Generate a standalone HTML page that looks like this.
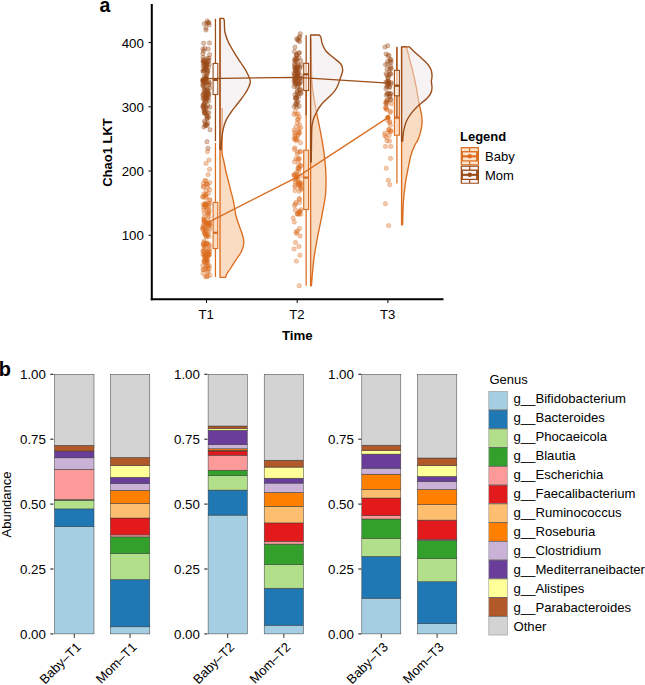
<!DOCTYPE html>
<html><head><meta charset="utf-8"><style>
html,body{margin:0;padding:0;background:#fff;}
svg{display:block;} text{font-family:"Liberation Sans", sans-serif;}
</style></head><body>
<svg width="645" height="685" viewBox="0 0 645 685">
<rect width="645" height="685" fill="#fff"/>
<line x1="151.8" y1="4" x2="151.8" y2="300.3" stroke="#000" stroke-width="2"/>
<line x1="150.8" y1="299.3" x2="443.5" y2="299.3" stroke="#000" stroke-width="2"/>
<line x1="148.5" y1="235.27" x2="151" y2="235.27" stroke="#000" stroke-width="1"/>
<text x="143.9" y="240.47" font-size="13.3" text-anchor="end" font-family="Liberation Sans, sans-serif">100</text>
<line x1="148.5" y1="171.04" x2="151" y2="171.04" stroke="#000" stroke-width="1"/>
<text x="143.9" y="176.24" font-size="13.3" text-anchor="end" font-family="Liberation Sans, sans-serif">200</text>
<line x1="148.5" y1="106.81" x2="151" y2="106.81" stroke="#000" stroke-width="1"/>
<text x="143.9" y="112.01" font-size="13.3" text-anchor="end" font-family="Liberation Sans, sans-serif">300</text>
<line x1="148.5" y1="42.58" x2="151" y2="42.58" stroke="#000" stroke-width="1"/>
<text x="143.9" y="47.78" font-size="13.3" text-anchor="end" font-family="Liberation Sans, sans-serif">400</text>
<line x1="206.50" y1="300" x2="206.50" y2="303" stroke="#000" stroke-width="1"/>
<text x="206.20" y="318.8" font-size="13.2" text-anchor="middle" font-family="Liberation Sans, sans-serif">T1</text>
<line x1="297.20" y1="300" x2="297.20" y2="303" stroke="#000" stroke-width="1"/>
<text x="296.90" y="318.8" font-size="13.2" text-anchor="middle" font-family="Liberation Sans, sans-serif">T2</text>
<line x1="387.90" y1="300" x2="387.90" y2="303" stroke="#000" stroke-width="1"/>
<text x="387.60" y="318.8" font-size="13.2" text-anchor="middle" font-family="Liberation Sans, sans-serif">T3</text>
<text x="297.3" y="339.8" font-size="13.3" font-weight="bold" text-anchor="middle" font-family="Liberation Sans, sans-serif">Time</text>
<text transform="translate(111.7,152.5) rotate(-90)" font-size="13" font-weight="bold" text-anchor="middle" font-family="Liberation Sans, sans-serif">Chao1 LKT</text>
<text x="99.5" y="11.9" font-size="19.5" font-weight="bold" font-family="Liberation Sans, sans-serif">a</text>
<path d="M220.00,277.30 L220.00,18.40 L220.00,18.40 C220.07,18.40 220.33,18.40 220.40,18.40 L220.40,18.40 C220.40,33.47 220.40,93.73 220.40,108.80 L220.40,108.80 C220.72,108.80 221.98,108.80 222.30,108.80 L222.30,108.80 C222.25,115.68 221.77,141.52 222.00,150.10 C222.23,158.68 223.08,156.90 223.70,160.30 C224.32,163.70 224.93,167.10 225.70,170.50 C226.47,173.90 227.45,177.30 228.30,180.70 C229.15,184.10 229.95,187.50 230.80,190.90 C231.65,194.30 232.67,197.70 233.40,201.10 C234.13,204.50 234.73,208.70 235.20,211.30 C235.67,213.90 235.38,213.87 236.20,216.70 C237.02,219.53 239.00,225.08 240.10,228.30 C241.20,231.52 242.18,233.47 242.80,236.00 C243.42,238.53 244.05,240.88 243.80,243.50 C243.55,246.12 242.60,248.98 241.30,251.70 C240.00,254.42 237.75,257.08 236.00,259.80 C234.25,262.52 232.32,265.67 230.80,268.00 C229.28,270.33 227.75,272.25 226.90,273.80 C226.05,275.35 225.90,276.72 225.70,277.30 L225.70,277.30 C224.75,277.30 220.95,277.30 220.00,277.30 Z" fill="#F9DCC2" stroke="#DB6D20" stroke-width="1.35" stroke-linejoin="round"/>
<path d="M310.60,285.70 L310.60,39.00 L310.60,39.00 C310.67,39.00 310.93,39.00 311.00,39.00 L311.00,39.00 C311.05,42.50 311.10,52.23 311.30,60.00 C311.50,67.77 311.48,77.68 312.20,85.60 C312.92,93.52 314.30,100.20 315.60,107.50 C316.90,114.80 318.63,122.10 320.00,129.40 C321.37,136.70 322.83,144.22 323.80,151.30 C324.77,158.38 325.50,164.82 325.80,171.90 C326.10,178.98 326.25,186.52 325.60,193.80 C324.95,201.08 323.25,208.32 321.90,215.60 C320.55,222.88 318.85,230.20 317.50,237.50 C316.15,244.80 314.82,251.37 313.80,259.40 C312.78,267.43 311.80,281.32 311.40,285.70 L311.40,285.70 C311.27,285.70 310.73,285.70 310.60,285.70 Z" fill="#F9DCC2" stroke="#DB6D20" stroke-width="1.35" stroke-linejoin="round"/>
<path d="M401.60,224.80 L401.60,46.90 L401.60,46.90 C402.40,46.90 405.60,46.90 406.40,46.90 L406.40,46.90 C406.97,49.08 408.77,56.03 409.80,60.00 C410.83,63.97 411.60,66.53 412.60,70.70 C413.60,74.87 414.78,79.90 415.80,85.00 C416.82,90.10 417.70,96.03 418.70,101.30 C419.70,106.57 421.28,112.52 421.80,116.60 C422.32,120.68 422.32,122.23 421.80,125.80 C421.28,129.37 419.85,134.80 418.70,138.00 C417.55,141.20 416.18,142.17 414.90,145.00 C413.62,147.83 412.12,151.17 411.00,155.00 C409.88,158.83 409.13,163.27 408.20,168.00 C407.27,172.73 406.20,177.77 405.40,183.40 C404.60,189.03 403.87,194.90 403.40,201.80 C402.93,208.70 402.73,220.97 402.60,224.80 L402.60,224.80 C402.43,224.80 401.77,224.80 401.60,224.80 Z" fill="#F9DCC2" stroke="#DB6D20" stroke-width="1.35" stroke-linejoin="round"/>
<path d="M220.00,149.60 L220.00,18.40 L220.00,18.40 C220.53,18.40 222.67,18.40 223.20,18.40 L223.20,18.40 C223.37,18.67 223.98,18.73 224.20,20.00 C224.42,21.27 224.38,24.00 224.50,26.00 C224.62,28.00 224.27,29.33 224.90,32.00 C225.53,34.67 226.62,38.37 228.30,42.00 C229.98,45.63 232.88,50.30 235.00,53.80 C237.12,57.30 239.12,60.08 241.00,63.00 C242.88,65.92 244.75,68.30 246.30,71.30 C247.85,74.30 249.97,78.22 250.30,81.00 C250.63,83.78 249.22,85.83 248.30,88.00 C247.38,90.17 246.10,92.00 244.80,94.00 C243.50,96.00 242.05,97.95 240.50,100.00 C238.95,102.05 237.17,104.13 235.50,106.30 C233.83,108.47 232.00,110.82 230.50,113.00 C229.00,115.18 227.58,117.23 226.50,119.40 C225.42,121.57 224.65,123.82 224.00,126.00 C223.35,128.18 223.00,130.17 222.60,132.50 C222.20,134.83 221.85,137.15 221.60,140.00 C221.35,142.85 221.18,148.00 221.10,149.60 L221.10,149.60 C220.92,149.60 220.18,149.60 220.00,149.60 Z" fill="rgba(239,229,232,0.5)" stroke="#9A4C18" stroke-width="1.35" stroke-linejoin="round"/>
<path d="M310.60,162.00 L310.60,35.00 L310.60,35.00 C312.03,35.00 317.77,35.00 319.20,35.00 L319.20,35.00 C319.47,35.33 320.30,35.57 320.80,37.00 C321.30,38.43 321.35,41.27 322.20,43.60 C323.05,45.93 324.03,48.67 325.90,51.00 C327.77,53.33 330.92,55.43 333.40,57.60 C335.88,59.77 339.25,61.98 340.80,64.00 C342.35,66.02 342.58,67.87 342.70,69.70 C342.82,71.53 342.02,73.23 341.50,75.00 C340.98,76.77 340.22,78.55 339.60,80.30 C338.98,82.05 338.60,83.75 337.80,85.50 C337.00,87.25 336.10,89.05 334.80,90.80 C333.50,92.55 331.75,94.25 330.00,96.00 C328.25,97.75 325.98,99.55 324.30,101.30 C322.62,103.05 321.15,104.75 319.90,106.50 C318.65,108.25 317.75,110.05 316.80,111.80 C315.85,113.55 314.90,115.25 314.20,117.00 C313.50,118.75 312.98,120.55 312.60,122.30 C312.22,124.05 312.07,125.47 311.90,127.50 C311.73,129.53 311.68,130.53 311.60,134.50 C311.52,138.47 311.47,146.72 311.40,151.30 C311.33,155.88 311.23,160.22 311.20,162.00 L311.20,162.00 C311.10,162.00 310.70,162.00 310.60,162.00 Z" fill="rgba(239,229,232,0.5)" stroke="#9A4C18" stroke-width="1.35" stroke-linejoin="round"/>
<path d="M401.60,141.10 L401.60,46.90 L401.60,46.90 C402.92,46.90 408.18,46.90 409.50,46.90 L409.50,46.90 C410.40,47.80 412.85,50.38 414.90,52.30 C416.95,54.22 419.63,56.37 421.80,58.40 C423.97,60.43 426.30,62.45 427.90,64.50 C429.50,66.55 430.72,68.65 431.40,70.70 C432.08,72.75 432.00,75.02 432.00,76.80 C432.00,78.58 431.40,79.62 431.40,81.40 C431.40,83.18 432.07,85.58 432.00,87.50 C431.93,89.42 431.82,91.12 431.00,92.90 C430.18,94.68 428.63,96.55 427.10,98.20 C425.57,99.85 423.58,101.27 421.80,102.80 C420.02,104.33 418.20,105.60 416.40,107.40 C414.60,109.20 412.67,111.30 411.00,113.60 C409.33,115.90 407.55,118.65 406.40,121.20 C405.25,123.75 404.65,126.60 404.10,128.90 C403.55,131.20 403.33,132.97 403.10,135.00 C402.87,137.03 402.77,140.08 402.70,141.10 L402.70,141.10 C402.52,141.10 401.78,141.10 401.60,141.10 Z" fill="rgba(239,229,232,0.5)" stroke="#9A4C18" stroke-width="1.35" stroke-linejoin="round"/>
<line x1="215.45" y1="143.00" x2="215.45" y2="202.40" stroke="#DB6D20" stroke-width="1.25"/>
<line x1="215.45" y1="248.50" x2="215.45" y2="277.00" stroke="#DB6D20" stroke-width="1.25"/>
<rect x="213.10" y="202.40" width="4.70" height="46.10" fill="#F9DCC2" stroke="#DB6D20" stroke-width="1.1"/>
<line x1="213.10" y1="232.80" x2="217.80" y2="232.80" stroke="#DB6D20" stroke-width="2.2"/>
<line x1="306.15" y1="63.00" x2="306.15" y2="150.20" stroke="#DB6D20" stroke-width="1.25"/>
<line x1="306.15" y1="209.50" x2="306.15" y2="285.70" stroke="#DB6D20" stroke-width="1.25"/>
<rect x="303.70" y="150.20" width="4.90" height="59.30" fill="#F9DCC2" stroke="#DB6D20" stroke-width="1.1"/>
<line x1="303.70" y1="177.60" x2="308.60" y2="177.60" stroke="#DB6D20" stroke-width="2.2"/>
<line x1="396.90" y1="47.50" x2="396.90" y2="86.30" stroke="#DB6D20" stroke-width="1.25"/>
<line x1="396.90" y1="135.20" x2="396.90" y2="183.40" stroke="#DB6D20" stroke-width="1.25"/>
<rect x="394.40" y="86.30" width="5.00" height="48.90" fill="#F9DCC2" stroke="#DB6D20" stroke-width="1.1"/>
<line x1="394.40" y1="117.70" x2="399.40" y2="117.70" stroke="#DB6D20" stroke-width="2.2"/>
<line x1="215.45" y1="18.80" x2="215.45" y2="63.40" stroke="#9A4C18" stroke-width="1.25"/>
<line x1="215.45" y1="94.50" x2="215.45" y2="141.20" stroke="#9A4C18" stroke-width="1.25"/>
<rect x="213.10" y="63.40" width="4.70" height="31.10" fill="rgba(250,246,247,0.4)" stroke="#9A4C18" stroke-width="1.1"/>
<line x1="213.10" y1="79.90" x2="217.80" y2="79.90" stroke="#9A4C18" stroke-width="2.2"/>
<line x1="306.15" y1="35.20" x2="306.15" y2="63.30" stroke="#9A4C18" stroke-width="1.25"/>
<line x1="306.15" y1="90.50" x2="306.15" y2="115.20" stroke="#9A4C18" stroke-width="1.25"/>
<rect x="303.70" y="63.30" width="4.90" height="27.20" fill="rgba(250,246,247,0.4)" stroke="#9A4C18" stroke-width="1.1"/>
<line x1="303.70" y1="74.30" x2="308.60" y2="74.30" stroke="#9A4C18" stroke-width="2.2"/>
<line x1="396.90" y1="46.80" x2="396.90" y2="70.30" stroke="#9A4C18" stroke-width="1.25"/>
<line x1="396.90" y1="95.80" x2="396.90" y2="117.00" stroke="#9A4C18" stroke-width="1.25"/>
<rect x="394.40" y="70.30" width="5.00" height="25.50" fill="rgba(250,246,247,0.4)" stroke="#9A4C18" stroke-width="1.1"/>
<line x1="394.40" y1="85.60" x2="399.40" y2="85.60" stroke="#9A4C18" stroke-width="2.2"/>
<polyline points="206.2,223.3 296.6,177.4 388.2,117.4" fill="none" stroke="#DB6D20" stroke-width="1.3"/>
<polyline points="206.3,78.6 297.2,77.4 388.4,83.1" fill="none" stroke="#9A4C18" stroke-width="1.3"/>
<circle cx="207.5" cy="151.6" r="2.2" fill="#DB6D20" fill-opacity="0.36" stroke="#DB6D20" stroke-opacity="0.42" stroke-width="0.7"/>
<circle cx="209.0" cy="160.0" r="2.2" fill="#DB6D20" fill-opacity="0.36" stroke="#DB6D20" stroke-opacity="0.42" stroke-width="0.7"/>
<circle cx="206.0" cy="163.4" r="2.2" fill="#DB6D20" fill-opacity="0.36" stroke="#DB6D20" stroke-opacity="0.42" stroke-width="0.7"/>
<circle cx="209.5" cy="169.3" r="2.2" fill="#DB6D20" fill-opacity="0.36" stroke="#DB6D20" stroke-opacity="0.42" stroke-width="0.7"/>
<circle cx="208.0" cy="174.6" r="2.2" fill="#DB6D20" fill-opacity="0.36" stroke="#DB6D20" stroke-opacity="0.42" stroke-width="0.7"/>
<circle cx="205.0" cy="180.5" r="2.2" fill="#DB6D20" fill-opacity="0.36" stroke="#DB6D20" stroke-opacity="0.42" stroke-width="0.7"/>
<circle cx="208.4" cy="193.4" r="2.2" fill="#DB6D20" fill-opacity="0.36" stroke="#DB6D20" stroke-opacity="0.42" stroke-width="0.7"/>
<circle cx="203.4" cy="187.1" r="2.2" fill="#DB6D20" fill-opacity="0.36" stroke="#DB6D20" stroke-opacity="0.42" stroke-width="0.7"/>
<circle cx="206.1" cy="190.7" r="2.2" fill="#DB6D20" fill-opacity="0.36" stroke="#DB6D20" stroke-opacity="0.42" stroke-width="0.7"/>
<circle cx="209.8" cy="182.6" r="2.2" fill="#DB6D20" fill-opacity="0.36" stroke="#DB6D20" stroke-opacity="0.42" stroke-width="0.7"/>
<circle cx="207.6" cy="187.3" r="2.2" fill="#DB6D20" fill-opacity="0.36" stroke="#DB6D20" stroke-opacity="0.42" stroke-width="0.7"/>
<circle cx="206.3" cy="184.1" r="2.2" fill="#DB6D20" fill-opacity="0.36" stroke="#DB6D20" stroke-opacity="0.42" stroke-width="0.7"/>
<circle cx="207.6" cy="184.6" r="2.2" fill="#DB6D20" fill-opacity="0.36" stroke="#DB6D20" stroke-opacity="0.42" stroke-width="0.7"/>
<circle cx="206.0" cy="180.8" r="2.2" fill="#DB6D20" fill-opacity="0.36" stroke="#DB6D20" stroke-opacity="0.42" stroke-width="0.7"/>
<circle cx="209.8" cy="189.7" r="2.2" fill="#DB6D20" fill-opacity="0.36" stroke="#DB6D20" stroke-opacity="0.42" stroke-width="0.7"/>
<circle cx="206.1" cy="194.3" r="2.2" fill="#DB6D20" fill-opacity="0.36" stroke="#DB6D20" stroke-opacity="0.42" stroke-width="0.7"/>
<circle cx="205.7" cy="197.8" r="2.2" fill="#DB6D20" fill-opacity="0.36" stroke="#DB6D20" stroke-opacity="0.42" stroke-width="0.7"/>
<circle cx="202.9" cy="196.7" r="2.2" fill="#DB6D20" fill-opacity="0.36" stroke="#DB6D20" stroke-opacity="0.42" stroke-width="0.7"/>
<circle cx="206.1" cy="196.2" r="2.2" fill="#DB6D20" fill-opacity="0.36" stroke="#DB6D20" stroke-opacity="0.42" stroke-width="0.7"/>
<circle cx="209.6" cy="199.7" r="2.2" fill="#DB6D20" fill-opacity="0.36" stroke="#DB6D20" stroke-opacity="0.42" stroke-width="0.7"/>
<circle cx="204.0" cy="194.0" r="2.2" fill="#DB6D20" fill-opacity="0.36" stroke="#DB6D20" stroke-opacity="0.42" stroke-width="0.7"/>
<circle cx="203.5" cy="183.2" r="2.2" fill="#DB6D20" fill-opacity="0.36" stroke="#DB6D20" stroke-opacity="0.42" stroke-width="0.7"/>
<circle cx="203.4" cy="186.3" r="2.2" fill="#DB6D20" fill-opacity="0.36" stroke="#DB6D20" stroke-opacity="0.42" stroke-width="0.7"/>
<circle cx="202.8" cy="197.1" r="2.2" fill="#DB6D20" fill-opacity="0.36" stroke="#DB6D20" stroke-opacity="0.42" stroke-width="0.7"/>
<circle cx="204.8" cy="195.6" r="2.2" fill="#DB6D20" fill-opacity="0.36" stroke="#DB6D20" stroke-opacity="0.42" stroke-width="0.7"/>
<circle cx="206.7" cy="183.9" r="2.2" fill="#DB6D20" fill-opacity="0.36" stroke="#DB6D20" stroke-opacity="0.42" stroke-width="0.7"/>
<circle cx="204.8" cy="204.8" r="2.2" fill="#DB6D20" fill-opacity="0.36" stroke="#DB6D20" stroke-opacity="0.42" stroke-width="0.7"/>
<circle cx="207.5" cy="203.5" r="2.2" fill="#DB6D20" fill-opacity="0.36" stroke="#DB6D20" stroke-opacity="0.42" stroke-width="0.7"/>
<circle cx="207.2" cy="213.4" r="2.2" fill="#DB6D20" fill-opacity="0.36" stroke="#DB6D20" stroke-opacity="0.42" stroke-width="0.7"/>
<circle cx="209.0" cy="204.4" r="2.2" fill="#DB6D20" fill-opacity="0.36" stroke="#DB6D20" stroke-opacity="0.42" stroke-width="0.7"/>
<circle cx="206.0" cy="207.3" r="2.2" fill="#DB6D20" fill-opacity="0.36" stroke="#DB6D20" stroke-opacity="0.42" stroke-width="0.7"/>
<circle cx="204.7" cy="204.9" r="2.2" fill="#DB6D20" fill-opacity="0.36" stroke="#DB6D20" stroke-opacity="0.42" stroke-width="0.7"/>
<circle cx="209.9" cy="200.2" r="2.2" fill="#DB6D20" fill-opacity="0.36" stroke="#DB6D20" stroke-opacity="0.42" stroke-width="0.7"/>
<circle cx="203.7" cy="209.8" r="2.2" fill="#DB6D20" fill-opacity="0.36" stroke="#DB6D20" stroke-opacity="0.42" stroke-width="0.7"/>
<circle cx="203.2" cy="204.4" r="2.2" fill="#DB6D20" fill-opacity="0.36" stroke="#DB6D20" stroke-opacity="0.42" stroke-width="0.7"/>
<circle cx="208.5" cy="213.7" r="2.2" fill="#DB6D20" fill-opacity="0.36" stroke="#DB6D20" stroke-opacity="0.42" stroke-width="0.7"/>
<circle cx="205.4" cy="203.1" r="2.2" fill="#DB6D20" fill-opacity="0.36" stroke="#DB6D20" stroke-opacity="0.42" stroke-width="0.7"/>
<circle cx="209.1" cy="209.5" r="2.2" fill="#DB6D20" fill-opacity="0.36" stroke="#DB6D20" stroke-opacity="0.42" stroke-width="0.7"/>
<circle cx="206.4" cy="205.0" r="2.2" fill="#DB6D20" fill-opacity="0.36" stroke="#DB6D20" stroke-opacity="0.42" stroke-width="0.7"/>
<circle cx="205.2" cy="204.4" r="2.2" fill="#DB6D20" fill-opacity="0.36" stroke="#DB6D20" stroke-opacity="0.42" stroke-width="0.7"/>
<circle cx="208.3" cy="207.2" r="2.2" fill="#DB6D20" fill-opacity="0.36" stroke="#DB6D20" stroke-opacity="0.42" stroke-width="0.7"/>
<circle cx="204.2" cy="213.1" r="2.2" fill="#DB6D20" fill-opacity="0.36" stroke="#DB6D20" stroke-opacity="0.42" stroke-width="0.7"/>
<circle cx="208.2" cy="213.0" r="2.2" fill="#DB6D20" fill-opacity="0.36" stroke="#DB6D20" stroke-opacity="0.42" stroke-width="0.7"/>
<circle cx="209.5" cy="203.6" r="2.2" fill="#DB6D20" fill-opacity="0.36" stroke="#DB6D20" stroke-opacity="0.42" stroke-width="0.7"/>
<circle cx="209.2" cy="211.5" r="2.2" fill="#DB6D20" fill-opacity="0.36" stroke="#DB6D20" stroke-opacity="0.42" stroke-width="0.7"/>
<circle cx="205.7" cy="204.9" r="2.2" fill="#DB6D20" fill-opacity="0.36" stroke="#DB6D20" stroke-opacity="0.42" stroke-width="0.7"/>
<circle cx="206.8" cy="208.9" r="2.2" fill="#DB6D20" fill-opacity="0.36" stroke="#DB6D20" stroke-opacity="0.42" stroke-width="0.7"/>
<circle cx="203.9" cy="207.3" r="2.2" fill="#DB6D20" fill-opacity="0.36" stroke="#DB6D20" stroke-opacity="0.42" stroke-width="0.7"/>
<circle cx="209.6" cy="222.0" r="2.2" fill="#DB6D20" fill-opacity="0.36" stroke="#DB6D20" stroke-opacity="0.42" stroke-width="0.7"/>
<circle cx="205.6" cy="228.8" r="2.2" fill="#DB6D20" fill-opacity="0.36" stroke="#DB6D20" stroke-opacity="0.42" stroke-width="0.7"/>
<circle cx="209.9" cy="229.1" r="2.2" fill="#DB6D20" fill-opacity="0.36" stroke="#DB6D20" stroke-opacity="0.42" stroke-width="0.7"/>
<circle cx="203.0" cy="227.9" r="2.2" fill="#DB6D20" fill-opacity="0.36" stroke="#DB6D20" stroke-opacity="0.42" stroke-width="0.7"/>
<circle cx="204.2" cy="220.2" r="2.2" fill="#DB6D20" fill-opacity="0.36" stroke="#DB6D20" stroke-opacity="0.42" stroke-width="0.7"/>
<circle cx="209.1" cy="216.5" r="2.2" fill="#DB6D20" fill-opacity="0.36" stroke="#DB6D20" stroke-opacity="0.42" stroke-width="0.7"/>
<circle cx="203.7" cy="219.0" r="2.2" fill="#DB6D20" fill-opacity="0.36" stroke="#DB6D20" stroke-opacity="0.42" stroke-width="0.7"/>
<circle cx="204.2" cy="220.1" r="2.2" fill="#DB6D20" fill-opacity="0.36" stroke="#DB6D20" stroke-opacity="0.42" stroke-width="0.7"/>
<circle cx="208.0" cy="224.5" r="2.2" fill="#DB6D20" fill-opacity="0.36" stroke="#DB6D20" stroke-opacity="0.42" stroke-width="0.7"/>
<circle cx="203.9" cy="226.5" r="2.2" fill="#DB6D20" fill-opacity="0.36" stroke="#DB6D20" stroke-opacity="0.42" stroke-width="0.7"/>
<circle cx="209.4" cy="223.9" r="2.2" fill="#DB6D20" fill-opacity="0.36" stroke="#DB6D20" stroke-opacity="0.42" stroke-width="0.7"/>
<circle cx="203.9" cy="222.3" r="2.2" fill="#DB6D20" fill-opacity="0.36" stroke="#DB6D20" stroke-opacity="0.42" stroke-width="0.7"/>
<circle cx="207.9" cy="218.2" r="2.2" fill="#DB6D20" fill-opacity="0.36" stroke="#DB6D20" stroke-opacity="0.42" stroke-width="0.7"/>
<circle cx="207.2" cy="224.3" r="2.2" fill="#DB6D20" fill-opacity="0.36" stroke="#DB6D20" stroke-opacity="0.42" stroke-width="0.7"/>
<circle cx="204.4" cy="217.2" r="2.2" fill="#DB6D20" fill-opacity="0.36" stroke="#DB6D20" stroke-opacity="0.42" stroke-width="0.7"/>
<circle cx="208.3" cy="223.0" r="2.2" fill="#DB6D20" fill-opacity="0.36" stroke="#DB6D20" stroke-opacity="0.42" stroke-width="0.7"/>
<circle cx="205.9" cy="222.2" r="2.2" fill="#DB6D20" fill-opacity="0.36" stroke="#DB6D20" stroke-opacity="0.42" stroke-width="0.7"/>
<circle cx="208.4" cy="227.6" r="2.2" fill="#DB6D20" fill-opacity="0.36" stroke="#DB6D20" stroke-opacity="0.42" stroke-width="0.7"/>
<circle cx="205.7" cy="226.6" r="2.2" fill="#DB6D20" fill-opacity="0.36" stroke="#DB6D20" stroke-opacity="0.42" stroke-width="0.7"/>
<circle cx="202.7" cy="228.1" r="2.2" fill="#DB6D20" fill-opacity="0.36" stroke="#DB6D20" stroke-opacity="0.42" stroke-width="0.7"/>
<circle cx="202.9" cy="229.7" r="2.2" fill="#DB6D20" fill-opacity="0.36" stroke="#DB6D20" stroke-opacity="0.42" stroke-width="0.7"/>
<circle cx="210.0" cy="224.1" r="2.2" fill="#DB6D20" fill-opacity="0.36" stroke="#DB6D20" stroke-opacity="0.42" stroke-width="0.7"/>
<circle cx="209.2" cy="225.1" r="2.2" fill="#DB6D20" fill-opacity="0.36" stroke="#DB6D20" stroke-opacity="0.42" stroke-width="0.7"/>
<circle cx="203.2" cy="225.5" r="2.2" fill="#DB6D20" fill-opacity="0.36" stroke="#DB6D20" stroke-opacity="0.42" stroke-width="0.7"/>
<circle cx="210.0" cy="225.8" r="2.2" fill="#DB6D20" fill-opacity="0.36" stroke="#DB6D20" stroke-opacity="0.42" stroke-width="0.7"/>
<circle cx="204.3" cy="221.3" r="2.2" fill="#DB6D20" fill-opacity="0.36" stroke="#DB6D20" stroke-opacity="0.42" stroke-width="0.7"/>
<circle cx="209.0" cy="255.4" r="2.2" fill="#DB6D20" fill-opacity="0.36" stroke="#DB6D20" stroke-opacity="0.42" stroke-width="0.7"/>
<circle cx="204.3" cy="256.3" r="2.2" fill="#DB6D20" fill-opacity="0.36" stroke="#DB6D20" stroke-opacity="0.42" stroke-width="0.7"/>
<circle cx="205.2" cy="230.3" r="2.2" fill="#DB6D20" fill-opacity="0.36" stroke="#DB6D20" stroke-opacity="0.42" stroke-width="0.7"/>
<circle cx="209.5" cy="248.6" r="2.2" fill="#DB6D20" fill-opacity="0.36" stroke="#DB6D20" stroke-opacity="0.42" stroke-width="0.7"/>
<circle cx="208.1" cy="234.5" r="2.2" fill="#DB6D20" fill-opacity="0.36" stroke="#DB6D20" stroke-opacity="0.42" stroke-width="0.7"/>
<circle cx="206.7" cy="259.6" r="2.2" fill="#DB6D20" fill-opacity="0.36" stroke="#DB6D20" stroke-opacity="0.42" stroke-width="0.7"/>
<circle cx="203.8" cy="261.1" r="2.2" fill="#DB6D20" fill-opacity="0.36" stroke="#DB6D20" stroke-opacity="0.42" stroke-width="0.7"/>
<circle cx="207.2" cy="253.2" r="2.2" fill="#DB6D20" fill-opacity="0.36" stroke="#DB6D20" stroke-opacity="0.42" stroke-width="0.7"/>
<circle cx="207.7" cy="254.4" r="2.2" fill="#DB6D20" fill-opacity="0.36" stroke="#DB6D20" stroke-opacity="0.42" stroke-width="0.7"/>
<circle cx="204.1" cy="249.3" r="2.2" fill="#DB6D20" fill-opacity="0.36" stroke="#DB6D20" stroke-opacity="0.42" stroke-width="0.7"/>
<circle cx="204.4" cy="233.5" r="2.2" fill="#DB6D20" fill-opacity="0.36" stroke="#DB6D20" stroke-opacity="0.42" stroke-width="0.7"/>
<circle cx="205.0" cy="259.1" r="2.2" fill="#DB6D20" fill-opacity="0.36" stroke="#DB6D20" stroke-opacity="0.42" stroke-width="0.7"/>
<circle cx="209.6" cy="245.5" r="2.2" fill="#DB6D20" fill-opacity="0.36" stroke="#DB6D20" stroke-opacity="0.42" stroke-width="0.7"/>
<circle cx="207.2" cy="235.8" r="2.2" fill="#DB6D20" fill-opacity="0.36" stroke="#DB6D20" stroke-opacity="0.42" stroke-width="0.7"/>
<circle cx="204.8" cy="250.7" r="2.2" fill="#DB6D20" fill-opacity="0.36" stroke="#DB6D20" stroke-opacity="0.42" stroke-width="0.7"/>
<circle cx="204.8" cy="254.5" r="2.2" fill="#DB6D20" fill-opacity="0.36" stroke="#DB6D20" stroke-opacity="0.42" stroke-width="0.7"/>
<circle cx="208.7" cy="244.4" r="2.2" fill="#DB6D20" fill-opacity="0.36" stroke="#DB6D20" stroke-opacity="0.42" stroke-width="0.7"/>
<circle cx="205.7" cy="235.4" r="2.2" fill="#DB6D20" fill-opacity="0.36" stroke="#DB6D20" stroke-opacity="0.42" stroke-width="0.7"/>
<circle cx="204.4" cy="256.4" r="2.2" fill="#DB6D20" fill-opacity="0.36" stroke="#DB6D20" stroke-opacity="0.42" stroke-width="0.7"/>
<circle cx="204.6" cy="232.4" r="2.2" fill="#DB6D20" fill-opacity="0.36" stroke="#DB6D20" stroke-opacity="0.42" stroke-width="0.7"/>
<circle cx="208.1" cy="255.8" r="2.2" fill="#DB6D20" fill-opacity="0.36" stroke="#DB6D20" stroke-opacity="0.42" stroke-width="0.7"/>
<circle cx="209.0" cy="254.2" r="2.2" fill="#DB6D20" fill-opacity="0.36" stroke="#DB6D20" stroke-opacity="0.42" stroke-width="0.7"/>
<circle cx="203.8" cy="245.3" r="2.2" fill="#DB6D20" fill-opacity="0.36" stroke="#DB6D20" stroke-opacity="0.42" stroke-width="0.7"/>
<circle cx="205.9" cy="246.2" r="2.2" fill="#DB6D20" fill-opacity="0.36" stroke="#DB6D20" stroke-opacity="0.42" stroke-width="0.7"/>
<circle cx="207.8" cy="252.0" r="2.2" fill="#DB6D20" fill-opacity="0.36" stroke="#DB6D20" stroke-opacity="0.42" stroke-width="0.7"/>
<circle cx="207.9" cy="260.2" r="2.2" fill="#DB6D20" fill-opacity="0.36" stroke="#DB6D20" stroke-opacity="0.42" stroke-width="0.7"/>
<circle cx="208.6" cy="254.8" r="2.2" fill="#DB6D20" fill-opacity="0.36" stroke="#DB6D20" stroke-opacity="0.42" stroke-width="0.7"/>
<circle cx="205.8" cy="256.7" r="2.2" fill="#DB6D20" fill-opacity="0.36" stroke="#DB6D20" stroke-opacity="0.42" stroke-width="0.7"/>
<circle cx="209.8" cy="251.8" r="2.2" fill="#DB6D20" fill-opacity="0.36" stroke="#DB6D20" stroke-opacity="0.42" stroke-width="0.7"/>
<circle cx="203.3" cy="251.2" r="2.2" fill="#DB6D20" fill-opacity="0.36" stroke="#DB6D20" stroke-opacity="0.42" stroke-width="0.7"/>
<circle cx="206.5" cy="236.9" r="2.2" fill="#DB6D20" fill-opacity="0.36" stroke="#DB6D20" stroke-opacity="0.42" stroke-width="0.7"/>
<circle cx="205.4" cy="254.9" r="2.2" fill="#DB6D20" fill-opacity="0.36" stroke="#DB6D20" stroke-opacity="0.42" stroke-width="0.7"/>
<circle cx="207.6" cy="243.1" r="2.2" fill="#DB6D20" fill-opacity="0.36" stroke="#DB6D20" stroke-opacity="0.42" stroke-width="0.7"/>
<circle cx="207.8" cy="253.7" r="2.2" fill="#DB6D20" fill-opacity="0.36" stroke="#DB6D20" stroke-opacity="0.42" stroke-width="0.7"/>
<circle cx="206.0" cy="258.8" r="2.2" fill="#DB6D20" fill-opacity="0.36" stroke="#DB6D20" stroke-opacity="0.42" stroke-width="0.7"/>
<circle cx="206.0" cy="236.0" r="2.2" fill="#DB6D20" fill-opacity="0.36" stroke="#DB6D20" stroke-opacity="0.42" stroke-width="0.7"/>
<circle cx="209.0" cy="254.0" r="2.2" fill="#DB6D20" fill-opacity="0.36" stroke="#DB6D20" stroke-opacity="0.42" stroke-width="0.7"/>
<circle cx="207.9" cy="255.7" r="2.2" fill="#DB6D20" fill-opacity="0.36" stroke="#DB6D20" stroke-opacity="0.42" stroke-width="0.7"/>
<circle cx="208.7" cy="231.9" r="2.2" fill="#DB6D20" fill-opacity="0.36" stroke="#DB6D20" stroke-opacity="0.42" stroke-width="0.7"/>
<circle cx="204.6" cy="254.3" r="2.2" fill="#DB6D20" fill-opacity="0.36" stroke="#DB6D20" stroke-opacity="0.42" stroke-width="0.7"/>
<circle cx="202.9" cy="254.1" r="2.2" fill="#DB6D20" fill-opacity="0.36" stroke="#DB6D20" stroke-opacity="0.42" stroke-width="0.7"/>
<circle cx="204.4" cy="261.3" r="2.2" fill="#DB6D20" fill-opacity="0.36" stroke="#DB6D20" stroke-opacity="0.42" stroke-width="0.7"/>
<circle cx="206.4" cy="261.2" r="2.2" fill="#DB6D20" fill-opacity="0.36" stroke="#DB6D20" stroke-opacity="0.42" stroke-width="0.7"/>
<circle cx="204.9" cy="260.9" r="2.2" fill="#DB6D20" fill-opacity="0.36" stroke="#DB6D20" stroke-opacity="0.42" stroke-width="0.7"/>
<circle cx="205.0" cy="232.4" r="2.2" fill="#DB6D20" fill-opacity="0.36" stroke="#DB6D20" stroke-opacity="0.42" stroke-width="0.7"/>
<circle cx="206.3" cy="244.0" r="2.2" fill="#DB6D20" fill-opacity="0.36" stroke="#DB6D20" stroke-opacity="0.42" stroke-width="0.7"/>
<circle cx="205.3" cy="234.0" r="2.2" fill="#DB6D20" fill-opacity="0.36" stroke="#DB6D20" stroke-opacity="0.42" stroke-width="0.7"/>
<circle cx="209.1" cy="236.6" r="2.2" fill="#DB6D20" fill-opacity="0.36" stroke="#DB6D20" stroke-opacity="0.42" stroke-width="0.7"/>
<circle cx="205.8" cy="243.3" r="2.2" fill="#DB6D20" fill-opacity="0.36" stroke="#DB6D20" stroke-opacity="0.42" stroke-width="0.7"/>
<circle cx="203.0" cy="251.0" r="2.2" fill="#DB6D20" fill-opacity="0.36" stroke="#DB6D20" stroke-opacity="0.42" stroke-width="0.7"/>
<circle cx="204.3" cy="241.2" r="2.2" fill="#DB6D20" fill-opacity="0.36" stroke="#DB6D20" stroke-opacity="0.42" stroke-width="0.7"/>
<circle cx="206.7" cy="243.9" r="2.2" fill="#DB6D20" fill-opacity="0.36" stroke="#DB6D20" stroke-opacity="0.42" stroke-width="0.7"/>
<circle cx="206.4" cy="261.7" r="2.2" fill="#DB6D20" fill-opacity="0.36" stroke="#DB6D20" stroke-opacity="0.42" stroke-width="0.7"/>
<circle cx="206.3" cy="260.6" r="2.2" fill="#DB6D20" fill-opacity="0.36" stroke="#DB6D20" stroke-opacity="0.42" stroke-width="0.7"/>
<circle cx="208.9" cy="250.3" r="2.2" fill="#DB6D20" fill-opacity="0.36" stroke="#DB6D20" stroke-opacity="0.42" stroke-width="0.7"/>
<circle cx="203.6" cy="244.7" r="2.2" fill="#DB6D20" fill-opacity="0.36" stroke="#DB6D20" stroke-opacity="0.42" stroke-width="0.7"/>
<circle cx="207.5" cy="251.8" r="2.2" fill="#DB6D20" fill-opacity="0.36" stroke="#DB6D20" stroke-opacity="0.42" stroke-width="0.7"/>
<circle cx="203.4" cy="244.2" r="2.2" fill="#DB6D20" fill-opacity="0.36" stroke="#DB6D20" stroke-opacity="0.42" stroke-width="0.7"/>
<circle cx="206.3" cy="231.0" r="2.2" fill="#DB6D20" fill-opacity="0.36" stroke="#DB6D20" stroke-opacity="0.42" stroke-width="0.7"/>
<circle cx="206.3" cy="259.2" r="2.2" fill="#DB6D20" fill-opacity="0.36" stroke="#DB6D20" stroke-opacity="0.42" stroke-width="0.7"/>
<circle cx="203.9" cy="242.3" r="2.2" fill="#DB6D20" fill-opacity="0.36" stroke="#DB6D20" stroke-opacity="0.42" stroke-width="0.7"/>
<circle cx="204.3" cy="246.5" r="2.2" fill="#DB6D20" fill-opacity="0.36" stroke="#DB6D20" stroke-opacity="0.42" stroke-width="0.7"/>
<circle cx="207.9" cy="268.7" r="2.2" fill="#DB6D20" fill-opacity="0.36" stroke="#DB6D20" stroke-opacity="0.42" stroke-width="0.7"/>
<circle cx="203.7" cy="269.2" r="2.2" fill="#DB6D20" fill-opacity="0.36" stroke="#DB6D20" stroke-opacity="0.42" stroke-width="0.7"/>
<circle cx="207.4" cy="271.4" r="2.2" fill="#DB6D20" fill-opacity="0.36" stroke="#DB6D20" stroke-opacity="0.42" stroke-width="0.7"/>
<circle cx="207.4" cy="263.0" r="2.2" fill="#DB6D20" fill-opacity="0.36" stroke="#DB6D20" stroke-opacity="0.42" stroke-width="0.7"/>
<circle cx="207.7" cy="265.4" r="2.2" fill="#DB6D20" fill-opacity="0.36" stroke="#DB6D20" stroke-opacity="0.42" stroke-width="0.7"/>
<circle cx="203.0" cy="269.8" r="2.2" fill="#DB6D20" fill-opacity="0.36" stroke="#DB6D20" stroke-opacity="0.42" stroke-width="0.7"/>
<circle cx="206.7" cy="266.4" r="2.2" fill="#DB6D20" fill-opacity="0.36" stroke="#DB6D20" stroke-opacity="0.42" stroke-width="0.7"/>
<circle cx="206.8" cy="266.6" r="2.2" fill="#DB6D20" fill-opacity="0.36" stroke="#DB6D20" stroke-opacity="0.42" stroke-width="0.7"/>
<circle cx="208.4" cy="271.9" r="2.2" fill="#DB6D20" fill-opacity="0.36" stroke="#DB6D20" stroke-opacity="0.42" stroke-width="0.7"/>
<circle cx="205.2" cy="269.3" r="2.2" fill="#DB6D20" fill-opacity="0.36" stroke="#DB6D20" stroke-opacity="0.42" stroke-width="0.7"/>
<circle cx="209.3" cy="265.8" r="2.2" fill="#DB6D20" fill-opacity="0.36" stroke="#DB6D20" stroke-opacity="0.42" stroke-width="0.7"/>
<circle cx="209.3" cy="268.2" r="2.2" fill="#DB6D20" fill-opacity="0.36" stroke="#DB6D20" stroke-opacity="0.42" stroke-width="0.7"/>
<circle cx="205.0" cy="263.5" r="2.2" fill="#DB6D20" fill-opacity="0.36" stroke="#DB6D20" stroke-opacity="0.42" stroke-width="0.7"/>
<circle cx="202.9" cy="265.5" r="2.2" fill="#DB6D20" fill-opacity="0.36" stroke="#DB6D20" stroke-opacity="0.42" stroke-width="0.7"/>
<circle cx="205.3" cy="276.6" r="2.2" fill="#DB6D20" fill-opacity="0.36" stroke="#DB6D20" stroke-opacity="0.42" stroke-width="0.7"/>
<circle cx="206.9" cy="276.5" r="2.2" fill="#DB6D20" fill-opacity="0.36" stroke="#DB6D20" stroke-opacity="0.42" stroke-width="0.7"/>
<circle cx="207.3" cy="276.4" r="2.2" fill="#DB6D20" fill-opacity="0.36" stroke="#DB6D20" stroke-opacity="0.42" stroke-width="0.7"/>
<circle cx="209.9" cy="275.3" r="2.2" fill="#DB6D20" fill-opacity="0.36" stroke="#DB6D20" stroke-opacity="0.42" stroke-width="0.7"/>
<circle cx="203.1" cy="273.3" r="2.2" fill="#DB6D20" fill-opacity="0.36" stroke="#DB6D20" stroke-opacity="0.42" stroke-width="0.7"/>
<circle cx="293.2" cy="218.0" r="2.2" fill="#DB6D20" fill-opacity="0.36" stroke="#DB6D20" stroke-opacity="0.42" stroke-width="0.7"/>
<circle cx="294.3" cy="222.0" r="2.2" fill="#DB6D20" fill-opacity="0.36" stroke="#DB6D20" stroke-opacity="0.42" stroke-width="0.7"/>
<circle cx="299.6" cy="228.4" r="2.2" fill="#DB6D20" fill-opacity="0.36" stroke="#DB6D20" stroke-opacity="0.42" stroke-width="0.7"/>
<circle cx="296.1" cy="232.0" r="2.2" fill="#DB6D20" fill-opacity="0.36" stroke="#DB6D20" stroke-opacity="0.42" stroke-width="0.7"/>
<circle cx="297.5" cy="231.0" r="2.2" fill="#DB6D20" fill-opacity="0.36" stroke="#DB6D20" stroke-opacity="0.42" stroke-width="0.7"/>
<circle cx="296.5" cy="233.5" r="2.2" fill="#DB6D20" fill-opacity="0.36" stroke="#DB6D20" stroke-opacity="0.42" stroke-width="0.7"/>
<circle cx="300.2" cy="236.0" r="2.2" fill="#DB6D20" fill-opacity="0.36" stroke="#DB6D20" stroke-opacity="0.42" stroke-width="0.7"/>
<circle cx="295.5" cy="242.5" r="2.2" fill="#DB6D20" fill-opacity="0.36" stroke="#DB6D20" stroke-opacity="0.42" stroke-width="0.7"/>
<circle cx="299.0" cy="246.5" r="2.2" fill="#DB6D20" fill-opacity="0.36" stroke="#DB6D20" stroke-opacity="0.42" stroke-width="0.7"/>
<circle cx="294.1" cy="248.9" r="2.2" fill="#DB6D20" fill-opacity="0.36" stroke="#DB6D20" stroke-opacity="0.42" stroke-width="0.7"/>
<circle cx="300.0" cy="255.3" r="2.2" fill="#DB6D20" fill-opacity="0.36" stroke="#DB6D20" stroke-opacity="0.42" stroke-width="0.7"/>
<circle cx="296.4" cy="261.1" r="2.2" fill="#DB6D20" fill-opacity="0.36" stroke="#DB6D20" stroke-opacity="0.42" stroke-width="0.7"/>
<circle cx="299.3" cy="285.7" r="2.2" fill="#DB6D20" fill-opacity="0.36" stroke="#DB6D20" stroke-opacity="0.42" stroke-width="0.7"/>
<circle cx="297.4" cy="119.5" r="2.2" fill="#DB6D20" fill-opacity="0.36" stroke="#DB6D20" stroke-opacity="0.42" stroke-width="0.7"/>
<circle cx="295.3" cy="111.4" r="2.2" fill="#DB6D20" fill-opacity="0.36" stroke="#DB6D20" stroke-opacity="0.42" stroke-width="0.7"/>
<circle cx="296.2" cy="114.4" r="2.2" fill="#DB6D20" fill-opacity="0.36" stroke="#DB6D20" stroke-opacity="0.42" stroke-width="0.7"/>
<circle cx="299.5" cy="124.6" r="2.2" fill="#DB6D20" fill-opacity="0.36" stroke="#DB6D20" stroke-opacity="0.42" stroke-width="0.7"/>
<circle cx="294.0" cy="114.3" r="2.2" fill="#DB6D20" fill-opacity="0.36" stroke="#DB6D20" stroke-opacity="0.42" stroke-width="0.7"/>
<circle cx="297.4" cy="123.0" r="2.2" fill="#DB6D20" fill-opacity="0.36" stroke="#DB6D20" stroke-opacity="0.42" stroke-width="0.7"/>
<circle cx="298.5" cy="119.4" r="2.2" fill="#DB6D20" fill-opacity="0.36" stroke="#DB6D20" stroke-opacity="0.42" stroke-width="0.7"/>
<circle cx="298.1" cy="113.9" r="2.2" fill="#DB6D20" fill-opacity="0.36" stroke="#DB6D20" stroke-opacity="0.42" stroke-width="0.7"/>
<circle cx="299.2" cy="117.0" r="2.2" fill="#DB6D20" fill-opacity="0.36" stroke="#DB6D20" stroke-opacity="0.42" stroke-width="0.7"/>
<circle cx="294.4" cy="149.6" r="2.2" fill="#DB6D20" fill-opacity="0.36" stroke="#DB6D20" stroke-opacity="0.42" stroke-width="0.7"/>
<circle cx="298.6" cy="131.3" r="2.2" fill="#DB6D20" fill-opacity="0.36" stroke="#DB6D20" stroke-opacity="0.42" stroke-width="0.7"/>
<circle cx="294.9" cy="147.8" r="2.2" fill="#DB6D20" fill-opacity="0.36" stroke="#DB6D20" stroke-opacity="0.42" stroke-width="0.7"/>
<circle cx="294.8" cy="136.0" r="2.2" fill="#DB6D20" fill-opacity="0.36" stroke="#DB6D20" stroke-opacity="0.42" stroke-width="0.7"/>
<circle cx="295.9" cy="139.3" r="2.2" fill="#DB6D20" fill-opacity="0.36" stroke="#DB6D20" stroke-opacity="0.42" stroke-width="0.7"/>
<circle cx="295.0" cy="134.6" r="2.2" fill="#DB6D20" fill-opacity="0.36" stroke="#DB6D20" stroke-opacity="0.42" stroke-width="0.7"/>
<circle cx="296.0" cy="126.6" r="2.2" fill="#DB6D20" fill-opacity="0.36" stroke="#DB6D20" stroke-opacity="0.42" stroke-width="0.7"/>
<circle cx="299.6" cy="132.8" r="2.2" fill="#DB6D20" fill-opacity="0.36" stroke="#DB6D20" stroke-opacity="0.42" stroke-width="0.7"/>
<circle cx="294.1" cy="139.0" r="2.2" fill="#DB6D20" fill-opacity="0.36" stroke="#DB6D20" stroke-opacity="0.42" stroke-width="0.7"/>
<circle cx="294.2" cy="130.0" r="2.2" fill="#DB6D20" fill-opacity="0.36" stroke="#DB6D20" stroke-opacity="0.42" stroke-width="0.7"/>
<circle cx="297.8" cy="134.8" r="2.2" fill="#DB6D20" fill-opacity="0.36" stroke="#DB6D20" stroke-opacity="0.42" stroke-width="0.7"/>
<circle cx="297.8" cy="135.1" r="2.2" fill="#DB6D20" fill-opacity="0.36" stroke="#DB6D20" stroke-opacity="0.42" stroke-width="0.7"/>
<circle cx="300.7" cy="127.6" r="2.2" fill="#DB6D20" fill-opacity="0.36" stroke="#DB6D20" stroke-opacity="0.42" stroke-width="0.7"/>
<circle cx="294.8" cy="132.1" r="2.2" fill="#DB6D20" fill-opacity="0.36" stroke="#DB6D20" stroke-opacity="0.42" stroke-width="0.7"/>
<circle cx="298.9" cy="128.9" r="2.2" fill="#DB6D20" fill-opacity="0.36" stroke="#DB6D20" stroke-opacity="0.42" stroke-width="0.7"/>
<circle cx="297.4" cy="139.2" r="2.2" fill="#DB6D20" fill-opacity="0.36" stroke="#DB6D20" stroke-opacity="0.42" stroke-width="0.7"/>
<circle cx="300.4" cy="142.7" r="2.2" fill="#DB6D20" fill-opacity="0.36" stroke="#DB6D20" stroke-opacity="0.42" stroke-width="0.7"/>
<circle cx="299.3" cy="133.0" r="2.2" fill="#DB6D20" fill-opacity="0.36" stroke="#DB6D20" stroke-opacity="0.42" stroke-width="0.7"/>
<circle cx="296.0" cy="140.8" r="2.2" fill="#DB6D20" fill-opacity="0.36" stroke="#DB6D20" stroke-opacity="0.42" stroke-width="0.7"/>
<circle cx="295.5" cy="138.7" r="2.2" fill="#DB6D20" fill-opacity="0.36" stroke="#DB6D20" stroke-opacity="0.42" stroke-width="0.7"/>
<circle cx="294.0" cy="175.4" r="2.2" fill="#DB6D20" fill-opacity="0.36" stroke="#DB6D20" stroke-opacity="0.42" stroke-width="0.7"/>
<circle cx="298.6" cy="163.9" r="2.2" fill="#DB6D20" fill-opacity="0.36" stroke="#DB6D20" stroke-opacity="0.42" stroke-width="0.7"/>
<circle cx="300.2" cy="184.7" r="2.2" fill="#DB6D20" fill-opacity="0.36" stroke="#DB6D20" stroke-opacity="0.42" stroke-width="0.7"/>
<circle cx="298.2" cy="182.3" r="2.2" fill="#DB6D20" fill-opacity="0.36" stroke="#DB6D20" stroke-opacity="0.42" stroke-width="0.7"/>
<circle cx="295.0" cy="185.4" r="2.2" fill="#DB6D20" fill-opacity="0.36" stroke="#DB6D20" stroke-opacity="0.42" stroke-width="0.7"/>
<circle cx="298.5" cy="183.3" r="2.2" fill="#DB6D20" fill-opacity="0.36" stroke="#DB6D20" stroke-opacity="0.42" stroke-width="0.7"/>
<circle cx="296.6" cy="172.3" r="2.2" fill="#DB6D20" fill-opacity="0.36" stroke="#DB6D20" stroke-opacity="0.42" stroke-width="0.7"/>
<circle cx="300.5" cy="182.2" r="2.2" fill="#DB6D20" fill-opacity="0.36" stroke="#DB6D20" stroke-opacity="0.42" stroke-width="0.7"/>
<circle cx="297.9" cy="168.3" r="2.2" fill="#DB6D20" fill-opacity="0.36" stroke="#DB6D20" stroke-opacity="0.42" stroke-width="0.7"/>
<circle cx="299.3" cy="168.9" r="2.2" fill="#DB6D20" fill-opacity="0.36" stroke="#DB6D20" stroke-opacity="0.42" stroke-width="0.7"/>
<circle cx="298.4" cy="171.9" r="2.2" fill="#DB6D20" fill-opacity="0.36" stroke="#DB6D20" stroke-opacity="0.42" stroke-width="0.7"/>
<circle cx="299.8" cy="185.7" r="2.2" fill="#DB6D20" fill-opacity="0.36" stroke="#DB6D20" stroke-opacity="0.42" stroke-width="0.7"/>
<circle cx="297.5" cy="152.1" r="2.2" fill="#DB6D20" fill-opacity="0.36" stroke="#DB6D20" stroke-opacity="0.42" stroke-width="0.7"/>
<circle cx="300.6" cy="176.4" r="2.2" fill="#DB6D20" fill-opacity="0.36" stroke="#DB6D20" stroke-opacity="0.42" stroke-width="0.7"/>
<circle cx="298.8" cy="160.0" r="2.2" fill="#DB6D20" fill-opacity="0.36" stroke="#DB6D20" stroke-opacity="0.42" stroke-width="0.7"/>
<circle cx="300.1" cy="184.7" r="2.2" fill="#DB6D20" fill-opacity="0.36" stroke="#DB6D20" stroke-opacity="0.42" stroke-width="0.7"/>
<circle cx="297.2" cy="154.0" r="2.2" fill="#DB6D20" fill-opacity="0.36" stroke="#DB6D20" stroke-opacity="0.42" stroke-width="0.7"/>
<circle cx="294.3" cy="174.7" r="2.2" fill="#DB6D20" fill-opacity="0.36" stroke="#DB6D20" stroke-opacity="0.42" stroke-width="0.7"/>
<circle cx="295.8" cy="158.8" r="2.2" fill="#DB6D20" fill-opacity="0.36" stroke="#DB6D20" stroke-opacity="0.42" stroke-width="0.7"/>
<circle cx="299.0" cy="168.1" r="2.2" fill="#DB6D20" fill-opacity="0.36" stroke="#DB6D20" stroke-opacity="0.42" stroke-width="0.7"/>
<circle cx="295.2" cy="181.8" r="2.2" fill="#DB6D20" fill-opacity="0.36" stroke="#DB6D20" stroke-opacity="0.42" stroke-width="0.7"/>
<circle cx="300.6" cy="151.8" r="2.2" fill="#DB6D20" fill-opacity="0.36" stroke="#DB6D20" stroke-opacity="0.42" stroke-width="0.7"/>
<circle cx="296.7" cy="174.8" r="2.2" fill="#DB6D20" fill-opacity="0.36" stroke="#DB6D20" stroke-opacity="0.42" stroke-width="0.7"/>
<circle cx="300.5" cy="165.4" r="2.2" fill="#DB6D20" fill-opacity="0.36" stroke="#DB6D20" stroke-opacity="0.42" stroke-width="0.7"/>
<circle cx="294.8" cy="179.8" r="2.2" fill="#DB6D20" fill-opacity="0.36" stroke="#DB6D20" stroke-opacity="0.42" stroke-width="0.7"/>
<circle cx="298.1" cy="158.7" r="2.2" fill="#DB6D20" fill-opacity="0.36" stroke="#DB6D20" stroke-opacity="0.42" stroke-width="0.7"/>
<circle cx="299.0" cy="183.0" r="2.2" fill="#DB6D20" fill-opacity="0.36" stroke="#DB6D20" stroke-opacity="0.42" stroke-width="0.7"/>
<circle cx="294.5" cy="174.9" r="2.2" fill="#DB6D20" fill-opacity="0.36" stroke="#DB6D20" stroke-opacity="0.42" stroke-width="0.7"/>
<circle cx="300.4" cy="187.0" r="2.2" fill="#DB6D20" fill-opacity="0.36" stroke="#DB6D20" stroke-opacity="0.42" stroke-width="0.7"/>
<circle cx="298.1" cy="184.6" r="2.2" fill="#DB6D20" fill-opacity="0.36" stroke="#DB6D20" stroke-opacity="0.42" stroke-width="0.7"/>
<circle cx="298.4" cy="167.7" r="2.2" fill="#DB6D20" fill-opacity="0.36" stroke="#DB6D20" stroke-opacity="0.42" stroke-width="0.7"/>
<circle cx="300.7" cy="183.6" r="2.2" fill="#DB6D20" fill-opacity="0.36" stroke="#DB6D20" stroke-opacity="0.42" stroke-width="0.7"/>
<circle cx="299.9" cy="151.4" r="2.2" fill="#DB6D20" fill-opacity="0.36" stroke="#DB6D20" stroke-opacity="0.42" stroke-width="0.7"/>
<circle cx="297.2" cy="176.3" r="2.2" fill="#DB6D20" fill-opacity="0.36" stroke="#DB6D20" stroke-opacity="0.42" stroke-width="0.7"/>
<circle cx="299.3" cy="158.5" r="2.2" fill="#DB6D20" fill-opacity="0.36" stroke="#DB6D20" stroke-opacity="0.42" stroke-width="0.7"/>
<circle cx="300.7" cy="165.9" r="2.2" fill="#DB6D20" fill-opacity="0.36" stroke="#DB6D20" stroke-opacity="0.42" stroke-width="0.7"/>
<circle cx="301.1" cy="189.3" r="2.2" fill="#DB6D20" fill-opacity="0.36" stroke="#DB6D20" stroke-opacity="0.42" stroke-width="0.7"/>
<circle cx="297.4" cy="179.6" r="2.2" fill="#DB6D20" fill-opacity="0.36" stroke="#DB6D20" stroke-opacity="0.42" stroke-width="0.7"/>
<circle cx="295.2" cy="187.0" r="2.2" fill="#DB6D20" fill-opacity="0.36" stroke="#DB6D20" stroke-opacity="0.42" stroke-width="0.7"/>
<circle cx="294.5" cy="161.8" r="2.2" fill="#DB6D20" fill-opacity="0.36" stroke="#DB6D20" stroke-opacity="0.42" stroke-width="0.7"/>
<circle cx="300.9" cy="188.6" r="2.2" fill="#DB6D20" fill-opacity="0.36" stroke="#DB6D20" stroke-opacity="0.42" stroke-width="0.7"/>
<circle cx="296.5" cy="177.6" r="2.2" fill="#DB6D20" fill-opacity="0.36" stroke="#DB6D20" stroke-opacity="0.42" stroke-width="0.7"/>
<circle cx="295.4" cy="204.2" r="2.2" fill="#DB6D20" fill-opacity="0.36" stroke="#DB6D20" stroke-opacity="0.42" stroke-width="0.7"/>
<circle cx="299.5" cy="199.4" r="2.2" fill="#DB6D20" fill-opacity="0.36" stroke="#DB6D20" stroke-opacity="0.42" stroke-width="0.7"/>
<circle cx="299.0" cy="212.1" r="2.2" fill="#DB6D20" fill-opacity="0.36" stroke="#DB6D20" stroke-opacity="0.42" stroke-width="0.7"/>
<circle cx="298.3" cy="214.2" r="2.2" fill="#DB6D20" fill-opacity="0.36" stroke="#DB6D20" stroke-opacity="0.42" stroke-width="0.7"/>
<circle cx="295.3" cy="210.0" r="2.2" fill="#DB6D20" fill-opacity="0.36" stroke="#DB6D20" stroke-opacity="0.42" stroke-width="0.7"/>
<circle cx="299.3" cy="198.5" r="2.2" fill="#DB6D20" fill-opacity="0.36" stroke="#DB6D20" stroke-opacity="0.42" stroke-width="0.7"/>
<circle cx="300.7" cy="214.2" r="2.2" fill="#DB6D20" fill-opacity="0.36" stroke="#DB6D20" stroke-opacity="0.42" stroke-width="0.7"/>
<circle cx="299.2" cy="191.3" r="2.2" fill="#DB6D20" fill-opacity="0.36" stroke="#DB6D20" stroke-opacity="0.42" stroke-width="0.7"/>
<circle cx="299.6" cy="211.6" r="2.2" fill="#DB6D20" fill-opacity="0.36" stroke="#DB6D20" stroke-opacity="0.42" stroke-width="0.7"/>
<circle cx="300.1" cy="211.2" r="2.2" fill="#DB6D20" fill-opacity="0.36" stroke="#DB6D20" stroke-opacity="0.42" stroke-width="0.7"/>
<circle cx="297.5" cy="213.9" r="2.2" fill="#DB6D20" fill-opacity="0.36" stroke="#DB6D20" stroke-opacity="0.42" stroke-width="0.7"/>
<circle cx="297.1" cy="213.7" r="2.2" fill="#DB6D20" fill-opacity="0.36" stroke="#DB6D20" stroke-opacity="0.42" stroke-width="0.7"/>
<circle cx="294.5" cy="205.5" r="2.2" fill="#DB6D20" fill-opacity="0.36" stroke="#DB6D20" stroke-opacity="0.42" stroke-width="0.7"/>
<circle cx="299.5" cy="202.6" r="2.2" fill="#DB6D20" fill-opacity="0.36" stroke="#DB6D20" stroke-opacity="0.42" stroke-width="0.7"/>
<circle cx="296.0" cy="202.2" r="2.2" fill="#DB6D20" fill-opacity="0.36" stroke="#DB6D20" stroke-opacity="0.42" stroke-width="0.7"/>
<circle cx="301.1" cy="209.6" r="2.2" fill="#DB6D20" fill-opacity="0.36" stroke="#DB6D20" stroke-opacity="0.42" stroke-width="0.7"/>
<circle cx="299.2" cy="213.5" r="2.2" fill="#DB6D20" fill-opacity="0.36" stroke="#DB6D20" stroke-opacity="0.42" stroke-width="0.7"/>
<circle cx="295.0" cy="190.6" r="2.2" fill="#DB6D20" fill-opacity="0.36" stroke="#DB6D20" stroke-opacity="0.42" stroke-width="0.7"/>
<circle cx="386.2" cy="137.2" r="2.2" fill="#DB6D20" fill-opacity="0.36" stroke="#DB6D20" stroke-opacity="0.42" stroke-width="0.7"/>
<circle cx="387.0" cy="140.8" r="2.2" fill="#DB6D20" fill-opacity="0.36" stroke="#DB6D20" stroke-opacity="0.42" stroke-width="0.7"/>
<circle cx="389.5" cy="141.0" r="2.2" fill="#DB6D20" fill-opacity="0.36" stroke="#DB6D20" stroke-opacity="0.42" stroke-width="0.7"/>
<circle cx="385.5" cy="146.4" r="2.2" fill="#DB6D20" fill-opacity="0.36" stroke="#DB6D20" stroke-opacity="0.42" stroke-width="0.7"/>
<circle cx="390.8" cy="146.4" r="2.2" fill="#DB6D20" fill-opacity="0.36" stroke="#DB6D20" stroke-opacity="0.42" stroke-width="0.7"/>
<circle cx="390.5" cy="158.4" r="2.2" fill="#DB6D20" fill-opacity="0.36" stroke="#DB6D20" stroke-opacity="0.42" stroke-width="0.7"/>
<circle cx="386.2" cy="168.3" r="2.2" fill="#DB6D20" fill-opacity="0.36" stroke="#DB6D20" stroke-opacity="0.42" stroke-width="0.7"/>
<circle cx="388.3" cy="180.3" r="2.2" fill="#DB6D20" fill-opacity="0.36" stroke="#DB6D20" stroke-opacity="0.42" stroke-width="0.7"/>
<circle cx="389.8" cy="184.7" r="2.2" fill="#DB6D20" fill-opacity="0.36" stroke="#DB6D20" stroke-opacity="0.42" stroke-width="0.7"/>
<circle cx="385.4" cy="203.7" r="2.2" fill="#DB6D20" fill-opacity="0.36" stroke="#DB6D20" stroke-opacity="0.42" stroke-width="0.7"/>
<circle cx="388.6" cy="225.6" r="2.2" fill="#DB6D20" fill-opacity="0.36" stroke="#DB6D20" stroke-opacity="0.42" stroke-width="0.7"/>
<circle cx="390.2" cy="112.6" r="2.2" fill="#DB6D20" fill-opacity="0.36" stroke="#DB6D20" stroke-opacity="0.42" stroke-width="0.7"/>
<circle cx="385.3" cy="107.7" r="2.2" fill="#DB6D20" fill-opacity="0.36" stroke="#DB6D20" stroke-opacity="0.42" stroke-width="0.7"/>
<circle cx="386.3" cy="107.6" r="2.2" fill="#DB6D20" fill-opacity="0.36" stroke="#DB6D20" stroke-opacity="0.42" stroke-width="0.7"/>
<circle cx="391.3" cy="103.7" r="2.2" fill="#DB6D20" fill-opacity="0.36" stroke="#DB6D20" stroke-opacity="0.42" stroke-width="0.7"/>
<circle cx="386.9" cy="103.2" r="2.2" fill="#DB6D20" fill-opacity="0.36" stroke="#DB6D20" stroke-opacity="0.42" stroke-width="0.7"/>
<circle cx="386.7" cy="109.2" r="2.2" fill="#DB6D20" fill-opacity="0.36" stroke="#DB6D20" stroke-opacity="0.42" stroke-width="0.7"/>
<circle cx="386.3" cy="109.3" r="2.2" fill="#DB6D20" fill-opacity="0.36" stroke="#DB6D20" stroke-opacity="0.42" stroke-width="0.7"/>
<circle cx="385.6" cy="102.3" r="2.2" fill="#DB6D20" fill-opacity="0.36" stroke="#DB6D20" stroke-opacity="0.42" stroke-width="0.7"/>
<circle cx="386.4" cy="102.0" r="2.2" fill="#DB6D20" fill-opacity="0.36" stroke="#DB6D20" stroke-opacity="0.42" stroke-width="0.7"/>
<circle cx="390.5" cy="111.2" r="2.2" fill="#DB6D20" fill-opacity="0.36" stroke="#DB6D20" stroke-opacity="0.42" stroke-width="0.7"/>
<circle cx="387.3" cy="117.4" r="2.2" fill="#DB6D20" fill-opacity="0.36" stroke="#DB6D20" stroke-opacity="0.42" stroke-width="0.7"/>
<circle cx="387.1" cy="100.1" r="2.2" fill="#DB6D20" fill-opacity="0.36" stroke="#DB6D20" stroke-opacity="0.42" stroke-width="0.7"/>
<circle cx="389.2" cy="135.6" r="2.2" fill="#DB6D20" fill-opacity="0.36" stroke="#DB6D20" stroke-opacity="0.42" stroke-width="0.7"/>
<circle cx="390.4" cy="125.3" r="2.2" fill="#DB6D20" fill-opacity="0.36" stroke="#DB6D20" stroke-opacity="0.42" stroke-width="0.7"/>
<circle cx="384.9" cy="133.2" r="2.2" fill="#DB6D20" fill-opacity="0.36" stroke="#DB6D20" stroke-opacity="0.42" stroke-width="0.7"/>
<circle cx="388.7" cy="129.7" r="2.2" fill="#DB6D20" fill-opacity="0.36" stroke="#DB6D20" stroke-opacity="0.42" stroke-width="0.7"/>
<circle cx="389.7" cy="122.6" r="2.2" fill="#DB6D20" fill-opacity="0.36" stroke="#DB6D20" stroke-opacity="0.42" stroke-width="0.7"/>
<circle cx="389.6" cy="121.5" r="2.2" fill="#DB6D20" fill-opacity="0.36" stroke="#DB6D20" stroke-opacity="0.42" stroke-width="0.7"/>
<circle cx="388.8" cy="129.7" r="2.2" fill="#DB6D20" fill-opacity="0.36" stroke="#DB6D20" stroke-opacity="0.42" stroke-width="0.7"/>
<circle cx="389.5" cy="131.9" r="2.2" fill="#DB6D20" fill-opacity="0.36" stroke="#DB6D20" stroke-opacity="0.42" stroke-width="0.7"/>
<circle cx="391.0" cy="130.8" r="2.2" fill="#DB6D20" fill-opacity="0.36" stroke="#DB6D20" stroke-opacity="0.42" stroke-width="0.7"/>
<circle cx="387.7" cy="120.3" r="2.2" fill="#DB6D20" fill-opacity="0.36" stroke="#DB6D20" stroke-opacity="0.42" stroke-width="0.7"/>
<circle cx="390.8" cy="131.4" r="2.2" fill="#DB6D20" fill-opacity="0.36" stroke="#DB6D20" stroke-opacity="0.42" stroke-width="0.7"/>
<circle cx="384.8" cy="135.4" r="2.2" fill="#DB6D20" fill-opacity="0.36" stroke="#DB6D20" stroke-opacity="0.42" stroke-width="0.7"/>
<circle cx="207.0" cy="141.7" r="2.2" fill="#9A4C18" fill-opacity="0.36" stroke="#9A4C18" stroke-opacity="0.42" stroke-width="0.7"/>
<circle cx="208.0" cy="148.3" r="2.2" fill="#9A4C18" fill-opacity="0.36" stroke="#9A4C18" stroke-opacity="0.42" stroke-width="0.7"/>
<circle cx="208.9" cy="22.6" r="2.2" fill="#9A4C18" fill-opacity="0.36" stroke="#9A4C18" stroke-opacity="0.42" stroke-width="0.7"/>
<circle cx="207.0" cy="23.2" r="2.2" fill="#9A4C18" fill-opacity="0.36" stroke="#9A4C18" stroke-opacity="0.42" stroke-width="0.7"/>
<circle cx="208.1" cy="22.7" r="2.2" fill="#9A4C18" fill-opacity="0.36" stroke="#9A4C18" stroke-opacity="0.42" stroke-width="0.7"/>
<circle cx="204.3" cy="23.8" r="2.2" fill="#9A4C18" fill-opacity="0.36" stroke="#9A4C18" stroke-opacity="0.42" stroke-width="0.7"/>
<circle cx="207.3" cy="20.9" r="2.2" fill="#9A4C18" fill-opacity="0.36" stroke="#9A4C18" stroke-opacity="0.42" stroke-width="0.7"/>
<circle cx="206.0" cy="30.0" r="2.2" fill="#9A4C18" fill-opacity="0.36" stroke="#9A4C18" stroke-opacity="0.42" stroke-width="0.7"/>
<circle cx="209.3" cy="24.7" r="2.2" fill="#9A4C18" fill-opacity="0.36" stroke="#9A4C18" stroke-opacity="0.42" stroke-width="0.7"/>
<circle cx="205.9" cy="28.0" r="2.2" fill="#9A4C18" fill-opacity="0.36" stroke="#9A4C18" stroke-opacity="0.42" stroke-width="0.7"/>
<circle cx="209.5" cy="42.9" r="2.2" fill="#9A4C18" fill-opacity="0.36" stroke="#9A4C18" stroke-opacity="0.42" stroke-width="0.7"/>
<circle cx="203.6" cy="43.3" r="2.2" fill="#9A4C18" fill-opacity="0.36" stroke="#9A4C18" stroke-opacity="0.42" stroke-width="0.7"/>
<circle cx="207.3" cy="58.4" r="2.2" fill="#9A4C18" fill-opacity="0.36" stroke="#9A4C18" stroke-opacity="0.42" stroke-width="0.7"/>
<circle cx="209.6" cy="54.7" r="2.2" fill="#9A4C18" fill-opacity="0.36" stroke="#9A4C18" stroke-opacity="0.42" stroke-width="0.7"/>
<circle cx="204.8" cy="48.4" r="2.2" fill="#9A4C18" fill-opacity="0.36" stroke="#9A4C18" stroke-opacity="0.42" stroke-width="0.7"/>
<circle cx="202.9" cy="53.6" r="2.2" fill="#9A4C18" fill-opacity="0.36" stroke="#9A4C18" stroke-opacity="0.42" stroke-width="0.7"/>
<circle cx="203.4" cy="59.6" r="2.2" fill="#9A4C18" fill-opacity="0.36" stroke="#9A4C18" stroke-opacity="0.42" stroke-width="0.7"/>
<circle cx="203.1" cy="57.2" r="2.2" fill="#9A4C18" fill-opacity="0.36" stroke="#9A4C18" stroke-opacity="0.42" stroke-width="0.7"/>
<circle cx="203.6" cy="50.9" r="2.2" fill="#9A4C18" fill-opacity="0.36" stroke="#9A4C18" stroke-opacity="0.42" stroke-width="0.7"/>
<circle cx="208.3" cy="49.0" r="2.2" fill="#9A4C18" fill-opacity="0.36" stroke="#9A4C18" stroke-opacity="0.42" stroke-width="0.7"/>
<circle cx="202.9" cy="49.1" r="2.2" fill="#9A4C18" fill-opacity="0.36" stroke="#9A4C18" stroke-opacity="0.42" stroke-width="0.7"/>
<circle cx="209.1" cy="58.2" r="2.2" fill="#9A4C18" fill-opacity="0.36" stroke="#9A4C18" stroke-opacity="0.42" stroke-width="0.7"/>
<circle cx="204.0" cy="63.0" r="2.2" fill="#9A4C18" fill-opacity="0.36" stroke="#9A4C18" stroke-opacity="0.42" stroke-width="0.7"/>
<circle cx="206.5" cy="67.4" r="2.2" fill="#9A4C18" fill-opacity="0.36" stroke="#9A4C18" stroke-opacity="0.42" stroke-width="0.7"/>
<circle cx="207.1" cy="73.5" r="2.2" fill="#9A4C18" fill-opacity="0.36" stroke="#9A4C18" stroke-opacity="0.42" stroke-width="0.7"/>
<circle cx="208.4" cy="67.2" r="2.2" fill="#9A4C18" fill-opacity="0.36" stroke="#9A4C18" stroke-opacity="0.42" stroke-width="0.7"/>
<circle cx="203.5" cy="61.1" r="2.2" fill="#9A4C18" fill-opacity="0.36" stroke="#9A4C18" stroke-opacity="0.42" stroke-width="0.7"/>
<circle cx="205.0" cy="60.1" r="2.2" fill="#9A4C18" fill-opacity="0.36" stroke="#9A4C18" stroke-opacity="0.42" stroke-width="0.7"/>
<circle cx="206.5" cy="69.4" r="2.2" fill="#9A4C18" fill-opacity="0.36" stroke="#9A4C18" stroke-opacity="0.42" stroke-width="0.7"/>
<circle cx="204.5" cy="69.2" r="2.2" fill="#9A4C18" fill-opacity="0.36" stroke="#9A4C18" stroke-opacity="0.42" stroke-width="0.7"/>
<circle cx="205.5" cy="63.3" r="2.2" fill="#9A4C18" fill-opacity="0.36" stroke="#9A4C18" stroke-opacity="0.42" stroke-width="0.7"/>
<circle cx="209.1" cy="64.3" r="2.2" fill="#9A4C18" fill-opacity="0.36" stroke="#9A4C18" stroke-opacity="0.42" stroke-width="0.7"/>
<circle cx="203.4" cy="71.3" r="2.2" fill="#9A4C18" fill-opacity="0.36" stroke="#9A4C18" stroke-opacity="0.42" stroke-width="0.7"/>
<circle cx="207.7" cy="60.8" r="2.2" fill="#9A4C18" fill-opacity="0.36" stroke="#9A4C18" stroke-opacity="0.42" stroke-width="0.7"/>
<circle cx="204.0" cy="69.1" r="2.2" fill="#9A4C18" fill-opacity="0.36" stroke="#9A4C18" stroke-opacity="0.42" stroke-width="0.7"/>
<circle cx="204.5" cy="65.5" r="2.2" fill="#9A4C18" fill-opacity="0.36" stroke="#9A4C18" stroke-opacity="0.42" stroke-width="0.7"/>
<circle cx="203.1" cy="61.8" r="2.2" fill="#9A4C18" fill-opacity="0.36" stroke="#9A4C18" stroke-opacity="0.42" stroke-width="0.7"/>
<circle cx="206.1" cy="66.0" r="2.2" fill="#9A4C18" fill-opacity="0.36" stroke="#9A4C18" stroke-opacity="0.42" stroke-width="0.7"/>
<circle cx="206.1" cy="63.2" r="2.2" fill="#9A4C18" fill-opacity="0.36" stroke="#9A4C18" stroke-opacity="0.42" stroke-width="0.7"/>
<circle cx="207.3" cy="64.3" r="2.2" fill="#9A4C18" fill-opacity="0.36" stroke="#9A4C18" stroke-opacity="0.42" stroke-width="0.7"/>
<circle cx="207.3" cy="72.5" r="2.2" fill="#9A4C18" fill-opacity="0.36" stroke="#9A4C18" stroke-opacity="0.42" stroke-width="0.7"/>
<circle cx="208.8" cy="60.3" r="2.2" fill="#9A4C18" fill-opacity="0.36" stroke="#9A4C18" stroke-opacity="0.42" stroke-width="0.7"/>
<circle cx="206.7" cy="64.1" r="2.2" fill="#9A4C18" fill-opacity="0.36" stroke="#9A4C18" stroke-opacity="0.42" stroke-width="0.7"/>
<circle cx="206.0" cy="64.0" r="2.2" fill="#9A4C18" fill-opacity="0.36" stroke="#9A4C18" stroke-opacity="0.42" stroke-width="0.7"/>
<circle cx="205.1" cy="67.8" r="2.2" fill="#9A4C18" fill-opacity="0.36" stroke="#9A4C18" stroke-opacity="0.42" stroke-width="0.7"/>
<circle cx="207.7" cy="61.9" r="2.2" fill="#9A4C18" fill-opacity="0.36" stroke="#9A4C18" stroke-opacity="0.42" stroke-width="0.7"/>
<circle cx="202.9" cy="71.0" r="2.2" fill="#9A4C18" fill-opacity="0.36" stroke="#9A4C18" stroke-opacity="0.42" stroke-width="0.7"/>
<circle cx="204.4" cy="64.6" r="2.2" fill="#9A4C18" fill-opacity="0.36" stroke="#9A4C18" stroke-opacity="0.42" stroke-width="0.7"/>
<circle cx="207.8" cy="70.8" r="2.2" fill="#9A4C18" fill-opacity="0.36" stroke="#9A4C18" stroke-opacity="0.42" stroke-width="0.7"/>
<circle cx="205.9" cy="67.4" r="2.2" fill="#9A4C18" fill-opacity="0.36" stroke="#9A4C18" stroke-opacity="0.42" stroke-width="0.7"/>
<circle cx="203.1" cy="65.9" r="2.2" fill="#9A4C18" fill-opacity="0.36" stroke="#9A4C18" stroke-opacity="0.42" stroke-width="0.7"/>
<circle cx="207.6" cy="71.0" r="2.2" fill="#9A4C18" fill-opacity="0.36" stroke="#9A4C18" stroke-opacity="0.42" stroke-width="0.7"/>
<circle cx="204.0" cy="70.4" r="2.2" fill="#9A4C18" fill-opacity="0.36" stroke="#9A4C18" stroke-opacity="0.42" stroke-width="0.7"/>
<circle cx="203.6" cy="61.3" r="2.2" fill="#9A4C18" fill-opacity="0.36" stroke="#9A4C18" stroke-opacity="0.42" stroke-width="0.7"/>
<circle cx="206.3" cy="97.3" r="2.2" fill="#9A4C18" fill-opacity="0.36" stroke="#9A4C18" stroke-opacity="0.42" stroke-width="0.7"/>
<circle cx="206.7" cy="75.5" r="2.2" fill="#9A4C18" fill-opacity="0.36" stroke="#9A4C18" stroke-opacity="0.42" stroke-width="0.7"/>
<circle cx="207.1" cy="89.2" r="2.2" fill="#9A4C18" fill-opacity="0.36" stroke="#9A4C18" stroke-opacity="0.42" stroke-width="0.7"/>
<circle cx="206.4" cy="96.7" r="2.2" fill="#9A4C18" fill-opacity="0.36" stroke="#9A4C18" stroke-opacity="0.42" stroke-width="0.7"/>
<circle cx="204.2" cy="87.5" r="2.2" fill="#9A4C18" fill-opacity="0.36" stroke="#9A4C18" stroke-opacity="0.42" stroke-width="0.7"/>
<circle cx="205.5" cy="98.0" r="2.2" fill="#9A4C18" fill-opacity="0.36" stroke="#9A4C18" stroke-opacity="0.42" stroke-width="0.7"/>
<circle cx="203.6" cy="81.0" r="2.2" fill="#9A4C18" fill-opacity="0.36" stroke="#9A4C18" stroke-opacity="0.42" stroke-width="0.7"/>
<circle cx="205.2" cy="79.1" r="2.2" fill="#9A4C18" fill-opacity="0.36" stroke="#9A4C18" stroke-opacity="0.42" stroke-width="0.7"/>
<circle cx="209.9" cy="88.1" r="2.2" fill="#9A4C18" fill-opacity="0.36" stroke="#9A4C18" stroke-opacity="0.42" stroke-width="0.7"/>
<circle cx="202.8" cy="81.1" r="2.2" fill="#9A4C18" fill-opacity="0.36" stroke="#9A4C18" stroke-opacity="0.42" stroke-width="0.7"/>
<circle cx="203.5" cy="80.4" r="2.2" fill="#9A4C18" fill-opacity="0.36" stroke="#9A4C18" stroke-opacity="0.42" stroke-width="0.7"/>
<circle cx="204.1" cy="93.0" r="2.2" fill="#9A4C18" fill-opacity="0.36" stroke="#9A4C18" stroke-opacity="0.42" stroke-width="0.7"/>
<circle cx="203.0" cy="80.1" r="2.2" fill="#9A4C18" fill-opacity="0.36" stroke="#9A4C18" stroke-opacity="0.42" stroke-width="0.7"/>
<circle cx="203.1" cy="98.5" r="2.2" fill="#9A4C18" fill-opacity="0.36" stroke="#9A4C18" stroke-opacity="0.42" stroke-width="0.7"/>
<circle cx="205.3" cy="78.2" r="2.2" fill="#9A4C18" fill-opacity="0.36" stroke="#9A4C18" stroke-opacity="0.42" stroke-width="0.7"/>
<circle cx="203.1" cy="94.7" r="2.2" fill="#9A4C18" fill-opacity="0.36" stroke="#9A4C18" stroke-opacity="0.42" stroke-width="0.7"/>
<circle cx="208.8" cy="94.2" r="2.2" fill="#9A4C18" fill-opacity="0.36" stroke="#9A4C18" stroke-opacity="0.42" stroke-width="0.7"/>
<circle cx="209.4" cy="82.9" r="2.2" fill="#9A4C18" fill-opacity="0.36" stroke="#9A4C18" stroke-opacity="0.42" stroke-width="0.7"/>
<circle cx="204.2" cy="82.6" r="2.2" fill="#9A4C18" fill-opacity="0.36" stroke="#9A4C18" stroke-opacity="0.42" stroke-width="0.7"/>
<circle cx="203.5" cy="79.6" r="2.2" fill="#9A4C18" fill-opacity="0.36" stroke="#9A4C18" stroke-opacity="0.42" stroke-width="0.7"/>
<circle cx="205.9" cy="76.1" r="2.2" fill="#9A4C18" fill-opacity="0.36" stroke="#9A4C18" stroke-opacity="0.42" stroke-width="0.7"/>
<circle cx="206.0" cy="98.6" r="2.2" fill="#9A4C18" fill-opacity="0.36" stroke="#9A4C18" stroke-opacity="0.42" stroke-width="0.7"/>
<circle cx="204.9" cy="83.4" r="2.2" fill="#9A4C18" fill-opacity="0.36" stroke="#9A4C18" stroke-opacity="0.42" stroke-width="0.7"/>
<circle cx="204.6" cy="97.8" r="2.2" fill="#9A4C18" fill-opacity="0.36" stroke="#9A4C18" stroke-opacity="0.42" stroke-width="0.7"/>
<circle cx="206.6" cy="94.5" r="2.2" fill="#9A4C18" fill-opacity="0.36" stroke="#9A4C18" stroke-opacity="0.42" stroke-width="0.7"/>
<circle cx="203.9" cy="99.4" r="2.2" fill="#9A4C18" fill-opacity="0.36" stroke="#9A4C18" stroke-opacity="0.42" stroke-width="0.7"/>
<circle cx="208.7" cy="93.6" r="2.2" fill="#9A4C18" fill-opacity="0.36" stroke="#9A4C18" stroke-opacity="0.42" stroke-width="0.7"/>
<circle cx="207.5" cy="98.1" r="2.2" fill="#9A4C18" fill-opacity="0.36" stroke="#9A4C18" stroke-opacity="0.42" stroke-width="0.7"/>
<circle cx="204.1" cy="93.5" r="2.2" fill="#9A4C18" fill-opacity="0.36" stroke="#9A4C18" stroke-opacity="0.42" stroke-width="0.7"/>
<circle cx="206.4" cy="78.1" r="2.2" fill="#9A4C18" fill-opacity="0.36" stroke="#9A4C18" stroke-opacity="0.42" stroke-width="0.7"/>
<circle cx="202.9" cy="83.6" r="2.2" fill="#9A4C18" fill-opacity="0.36" stroke="#9A4C18" stroke-opacity="0.42" stroke-width="0.7"/>
<circle cx="207.8" cy="90.3" r="2.2" fill="#9A4C18" fill-opacity="0.36" stroke="#9A4C18" stroke-opacity="0.42" stroke-width="0.7"/>
<circle cx="204.2" cy="76.0" r="2.2" fill="#9A4C18" fill-opacity="0.36" stroke="#9A4C18" stroke-opacity="0.42" stroke-width="0.7"/>
<circle cx="208.5" cy="84.8" r="2.2" fill="#9A4C18" fill-opacity="0.36" stroke="#9A4C18" stroke-opacity="0.42" stroke-width="0.7"/>
<circle cx="209.2" cy="85.0" r="2.2" fill="#9A4C18" fill-opacity="0.36" stroke="#9A4C18" stroke-opacity="0.42" stroke-width="0.7"/>
<circle cx="207.2" cy="92.5" r="2.2" fill="#9A4C18" fill-opacity="0.36" stroke="#9A4C18" stroke-opacity="0.42" stroke-width="0.7"/>
<circle cx="202.8" cy="85.6" r="2.2" fill="#9A4C18" fill-opacity="0.36" stroke="#9A4C18" stroke-opacity="0.42" stroke-width="0.7"/>
<circle cx="203.9" cy="90.5" r="2.2" fill="#9A4C18" fill-opacity="0.36" stroke="#9A4C18" stroke-opacity="0.42" stroke-width="0.7"/>
<circle cx="202.8" cy="79.8" r="2.2" fill="#9A4C18" fill-opacity="0.36" stroke="#9A4C18" stroke-opacity="0.42" stroke-width="0.7"/>
<circle cx="207.2" cy="96.0" r="2.2" fill="#9A4C18" fill-opacity="0.36" stroke="#9A4C18" stroke-opacity="0.42" stroke-width="0.7"/>
<circle cx="206.1" cy="81.0" r="2.2" fill="#9A4C18" fill-opacity="0.36" stroke="#9A4C18" stroke-opacity="0.42" stroke-width="0.7"/>
<circle cx="206.0" cy="82.1" r="2.2" fill="#9A4C18" fill-opacity="0.36" stroke="#9A4C18" stroke-opacity="0.42" stroke-width="0.7"/>
<circle cx="207.9" cy="91.4" r="2.2" fill="#9A4C18" fill-opacity="0.36" stroke="#9A4C18" stroke-opacity="0.42" stroke-width="0.7"/>
<circle cx="207.0" cy="82.3" r="2.2" fill="#9A4C18" fill-opacity="0.36" stroke="#9A4C18" stroke-opacity="0.42" stroke-width="0.7"/>
<circle cx="205.5" cy="90.2" r="2.2" fill="#9A4C18" fill-opacity="0.36" stroke="#9A4C18" stroke-opacity="0.42" stroke-width="0.7"/>
<circle cx="208.8" cy="97.1" r="2.2" fill="#9A4C18" fill-opacity="0.36" stroke="#9A4C18" stroke-opacity="0.42" stroke-width="0.7"/>
<circle cx="206.2" cy="91.5" r="2.2" fill="#9A4C18" fill-opacity="0.36" stroke="#9A4C18" stroke-opacity="0.42" stroke-width="0.7"/>
<circle cx="208.8" cy="81.8" r="2.2" fill="#9A4C18" fill-opacity="0.36" stroke="#9A4C18" stroke-opacity="0.42" stroke-width="0.7"/>
<circle cx="207.9" cy="94.2" r="2.2" fill="#9A4C18" fill-opacity="0.36" stroke="#9A4C18" stroke-opacity="0.42" stroke-width="0.7"/>
<circle cx="203.6" cy="85.5" r="2.2" fill="#9A4C18" fill-opacity="0.36" stroke="#9A4C18" stroke-opacity="0.42" stroke-width="0.7"/>
<circle cx="203.0" cy="95.6" r="2.2" fill="#9A4C18" fill-opacity="0.36" stroke="#9A4C18" stroke-opacity="0.42" stroke-width="0.7"/>
<circle cx="205.1" cy="88.3" r="2.2" fill="#9A4C18" fill-opacity="0.36" stroke="#9A4C18" stroke-opacity="0.42" stroke-width="0.7"/>
<circle cx="205.8" cy="94.7" r="2.2" fill="#9A4C18" fill-opacity="0.36" stroke="#9A4C18" stroke-opacity="0.42" stroke-width="0.7"/>
<circle cx="205.8" cy="96.1" r="2.2" fill="#9A4C18" fill-opacity="0.36" stroke="#9A4C18" stroke-opacity="0.42" stroke-width="0.7"/>
<circle cx="203.3" cy="80.7" r="2.2" fill="#9A4C18" fill-opacity="0.36" stroke="#9A4C18" stroke-opacity="0.42" stroke-width="0.7"/>
<circle cx="205.1" cy="100.7" r="2.2" fill="#9A4C18" fill-opacity="0.36" stroke="#9A4C18" stroke-opacity="0.42" stroke-width="0.7"/>
<circle cx="204.1" cy="109.3" r="2.2" fill="#9A4C18" fill-opacity="0.36" stroke="#9A4C18" stroke-opacity="0.42" stroke-width="0.7"/>
<circle cx="203.5" cy="107.3" r="2.2" fill="#9A4C18" fill-opacity="0.36" stroke="#9A4C18" stroke-opacity="0.42" stroke-width="0.7"/>
<circle cx="208.8" cy="112.7" r="2.2" fill="#9A4C18" fill-opacity="0.36" stroke="#9A4C18" stroke-opacity="0.42" stroke-width="0.7"/>
<circle cx="209.9" cy="107.3" r="2.2" fill="#9A4C18" fill-opacity="0.36" stroke="#9A4C18" stroke-opacity="0.42" stroke-width="0.7"/>
<circle cx="203.9" cy="103.4" r="2.2" fill="#9A4C18" fill-opacity="0.36" stroke="#9A4C18" stroke-opacity="0.42" stroke-width="0.7"/>
<circle cx="208.6" cy="100.9" r="2.2" fill="#9A4C18" fill-opacity="0.36" stroke="#9A4C18" stroke-opacity="0.42" stroke-width="0.7"/>
<circle cx="204.0" cy="105.0" r="2.2" fill="#9A4C18" fill-opacity="0.36" stroke="#9A4C18" stroke-opacity="0.42" stroke-width="0.7"/>
<circle cx="206.3" cy="107.8" r="2.2" fill="#9A4C18" fill-opacity="0.36" stroke="#9A4C18" stroke-opacity="0.42" stroke-width="0.7"/>
<circle cx="204.7" cy="113.0" r="2.2" fill="#9A4C18" fill-opacity="0.36" stroke="#9A4C18" stroke-opacity="0.42" stroke-width="0.7"/>
<circle cx="206.8" cy="100.3" r="2.2" fill="#9A4C18" fill-opacity="0.36" stroke="#9A4C18" stroke-opacity="0.42" stroke-width="0.7"/>
<circle cx="202.8" cy="106.6" r="2.2" fill="#9A4C18" fill-opacity="0.36" stroke="#9A4C18" stroke-opacity="0.42" stroke-width="0.7"/>
<circle cx="204.9" cy="112.3" r="2.2" fill="#9A4C18" fill-opacity="0.36" stroke="#9A4C18" stroke-opacity="0.42" stroke-width="0.7"/>
<circle cx="207.7" cy="105.5" r="2.2" fill="#9A4C18" fill-opacity="0.36" stroke="#9A4C18" stroke-opacity="0.42" stroke-width="0.7"/>
<circle cx="203.2" cy="106.0" r="2.2" fill="#9A4C18" fill-opacity="0.36" stroke="#9A4C18" stroke-opacity="0.42" stroke-width="0.7"/>
<circle cx="204.0" cy="104.3" r="2.2" fill="#9A4C18" fill-opacity="0.36" stroke="#9A4C18" stroke-opacity="0.42" stroke-width="0.7"/>
<circle cx="205.3" cy="110.9" r="2.2" fill="#9A4C18" fill-opacity="0.36" stroke="#9A4C18" stroke-opacity="0.42" stroke-width="0.7"/>
<circle cx="205.4" cy="108.1" r="2.2" fill="#9A4C18" fill-opacity="0.36" stroke="#9A4C18" stroke-opacity="0.42" stroke-width="0.7"/>
<circle cx="205.4" cy="106.5" r="2.2" fill="#9A4C18" fill-opacity="0.36" stroke="#9A4C18" stroke-opacity="0.42" stroke-width="0.7"/>
<circle cx="203.9" cy="110.7" r="2.2" fill="#9A4C18" fill-opacity="0.36" stroke="#9A4C18" stroke-opacity="0.42" stroke-width="0.7"/>
<circle cx="207.2" cy="112.7" r="2.2" fill="#9A4C18" fill-opacity="0.36" stroke="#9A4C18" stroke-opacity="0.42" stroke-width="0.7"/>
<circle cx="205.6" cy="101.9" r="2.2" fill="#9A4C18" fill-opacity="0.36" stroke="#9A4C18" stroke-opacity="0.42" stroke-width="0.7"/>
<circle cx="204.2" cy="113.1" r="2.2" fill="#9A4C18" fill-opacity="0.36" stroke="#9A4C18" stroke-opacity="0.42" stroke-width="0.7"/>
<circle cx="205.9" cy="114.1" r="2.2" fill="#9A4C18" fill-opacity="0.36" stroke="#9A4C18" stroke-opacity="0.42" stroke-width="0.7"/>
<circle cx="204.4" cy="121.2" r="2.2" fill="#9A4C18" fill-opacity="0.36" stroke="#9A4C18" stroke-opacity="0.42" stroke-width="0.7"/>
<circle cx="205.2" cy="125.5" r="2.2" fill="#9A4C18" fill-opacity="0.36" stroke="#9A4C18" stroke-opacity="0.42" stroke-width="0.7"/>
<circle cx="207.0" cy="125.5" r="2.2" fill="#9A4C18" fill-opacity="0.36" stroke="#9A4C18" stroke-opacity="0.42" stroke-width="0.7"/>
<circle cx="207.6" cy="117.8" r="2.2" fill="#9A4C18" fill-opacity="0.36" stroke="#9A4C18" stroke-opacity="0.42" stroke-width="0.7"/>
<circle cx="210.0" cy="129.7" r="2.2" fill="#9A4C18" fill-opacity="0.36" stroke="#9A4C18" stroke-opacity="0.42" stroke-width="0.7"/>
<circle cx="205.6" cy="125.3" r="2.2" fill="#9A4C18" fill-opacity="0.36" stroke="#9A4C18" stroke-opacity="0.42" stroke-width="0.7"/>
<circle cx="205.3" cy="122.8" r="2.2" fill="#9A4C18" fill-opacity="0.36" stroke="#9A4C18" stroke-opacity="0.42" stroke-width="0.7"/>
<circle cx="203.9" cy="127.0" r="2.2" fill="#9A4C18" fill-opacity="0.36" stroke="#9A4C18" stroke-opacity="0.42" stroke-width="0.7"/>
<circle cx="207.0" cy="115.9" r="2.2" fill="#9A4C18" fill-opacity="0.36" stroke="#9A4C18" stroke-opacity="0.42" stroke-width="0.7"/>
<circle cx="207.6" cy="122.9" r="2.2" fill="#9A4C18" fill-opacity="0.36" stroke="#9A4C18" stroke-opacity="0.42" stroke-width="0.7"/>
<circle cx="207.0" cy="124.6" r="2.2" fill="#9A4C18" fill-opacity="0.36" stroke="#9A4C18" stroke-opacity="0.42" stroke-width="0.7"/>
<circle cx="207.0" cy="116.9" r="2.2" fill="#9A4C18" fill-opacity="0.36" stroke="#9A4C18" stroke-opacity="0.42" stroke-width="0.7"/>
<circle cx="208.6" cy="117.1" r="2.2" fill="#9A4C18" fill-opacity="0.36" stroke="#9A4C18" stroke-opacity="0.42" stroke-width="0.7"/>
<circle cx="207.0" cy="118.7" r="2.2" fill="#9A4C18" fill-opacity="0.36" stroke="#9A4C18" stroke-opacity="0.42" stroke-width="0.7"/>
<circle cx="299.7" cy="36.4" r="2.2" fill="#9A4C18" fill-opacity="0.36" stroke="#9A4C18" stroke-opacity="0.42" stroke-width="0.7"/>
<circle cx="296.7" cy="38.8" r="2.2" fill="#9A4C18" fill-opacity="0.36" stroke="#9A4C18" stroke-opacity="0.42" stroke-width="0.7"/>
<circle cx="300.3" cy="33.7" r="2.2" fill="#9A4C18" fill-opacity="0.36" stroke="#9A4C18" stroke-opacity="0.42" stroke-width="0.7"/>
<circle cx="297.6" cy="39.7" r="2.2" fill="#9A4C18" fill-opacity="0.36" stroke="#9A4C18" stroke-opacity="0.42" stroke-width="0.7"/>
<circle cx="299.2" cy="38.0" r="2.2" fill="#9A4C18" fill-opacity="0.36" stroke="#9A4C18" stroke-opacity="0.42" stroke-width="0.7"/>
<circle cx="296.7" cy="54.7" r="2.2" fill="#9A4C18" fill-opacity="0.36" stroke="#9A4C18" stroke-opacity="0.42" stroke-width="0.7"/>
<circle cx="299.1" cy="53.1" r="2.2" fill="#9A4C18" fill-opacity="0.36" stroke="#9A4C18" stroke-opacity="0.42" stroke-width="0.7"/>
<circle cx="299.7" cy="41.5" r="2.2" fill="#9A4C18" fill-opacity="0.36" stroke="#9A4C18" stroke-opacity="0.42" stroke-width="0.7"/>
<circle cx="295.0" cy="47.1" r="2.2" fill="#9A4C18" fill-opacity="0.36" stroke="#9A4C18" stroke-opacity="0.42" stroke-width="0.7"/>
<circle cx="299.3" cy="52.6" r="2.2" fill="#9A4C18" fill-opacity="0.36" stroke="#9A4C18" stroke-opacity="0.42" stroke-width="0.7"/>
<circle cx="296.4" cy="54.7" r="2.2" fill="#9A4C18" fill-opacity="0.36" stroke="#9A4C18" stroke-opacity="0.42" stroke-width="0.7"/>
<circle cx="298.3" cy="40.5" r="2.2" fill="#9A4C18" fill-opacity="0.36" stroke="#9A4C18" stroke-opacity="0.42" stroke-width="0.7"/>
<circle cx="294.5" cy="51.5" r="2.2" fill="#9A4C18" fill-opacity="0.36" stroke="#9A4C18" stroke-opacity="0.42" stroke-width="0.7"/>
<circle cx="294.5" cy="60.4" r="2.2" fill="#9A4C18" fill-opacity="0.36" stroke="#9A4C18" stroke-opacity="0.42" stroke-width="0.7"/>
<circle cx="296.3" cy="68.1" r="2.2" fill="#9A4C18" fill-opacity="0.36" stroke="#9A4C18" stroke-opacity="0.42" stroke-width="0.7"/>
<circle cx="296.6" cy="59.5" r="2.2" fill="#9A4C18" fill-opacity="0.36" stroke="#9A4C18" stroke-opacity="0.42" stroke-width="0.7"/>
<circle cx="294.9" cy="68.7" r="2.2" fill="#9A4C18" fill-opacity="0.36" stroke="#9A4C18" stroke-opacity="0.42" stroke-width="0.7"/>
<circle cx="296.0" cy="68.0" r="2.2" fill="#9A4C18" fill-opacity="0.36" stroke="#9A4C18" stroke-opacity="0.42" stroke-width="0.7"/>
<circle cx="294.6" cy="67.3" r="2.2" fill="#9A4C18" fill-opacity="0.36" stroke="#9A4C18" stroke-opacity="0.42" stroke-width="0.7"/>
<circle cx="294.8" cy="65.2" r="2.2" fill="#9A4C18" fill-opacity="0.36" stroke="#9A4C18" stroke-opacity="0.42" stroke-width="0.7"/>
<circle cx="298.0" cy="65.5" r="2.2" fill="#9A4C18" fill-opacity="0.36" stroke="#9A4C18" stroke-opacity="0.42" stroke-width="0.7"/>
<circle cx="296.9" cy="55.3" r="2.2" fill="#9A4C18" fill-opacity="0.36" stroke="#9A4C18" stroke-opacity="0.42" stroke-width="0.7"/>
<circle cx="299.9" cy="68.7" r="2.2" fill="#9A4C18" fill-opacity="0.36" stroke="#9A4C18" stroke-opacity="0.42" stroke-width="0.7"/>
<circle cx="295.7" cy="68.5" r="2.2" fill="#9A4C18" fill-opacity="0.36" stroke="#9A4C18" stroke-opacity="0.42" stroke-width="0.7"/>
<circle cx="295.0" cy="60.0" r="2.2" fill="#9A4C18" fill-opacity="0.36" stroke="#9A4C18" stroke-opacity="0.42" stroke-width="0.7"/>
<circle cx="297.3" cy="64.2" r="2.2" fill="#9A4C18" fill-opacity="0.36" stroke="#9A4C18" stroke-opacity="0.42" stroke-width="0.7"/>
<circle cx="297.9" cy="67.0" r="2.2" fill="#9A4C18" fill-opacity="0.36" stroke="#9A4C18" stroke-opacity="0.42" stroke-width="0.7"/>
<circle cx="297.0" cy="69.4" r="2.2" fill="#9A4C18" fill-opacity="0.36" stroke="#9A4C18" stroke-opacity="0.42" stroke-width="0.7"/>
<circle cx="300.7" cy="60.8" r="2.2" fill="#9A4C18" fill-opacity="0.36" stroke="#9A4C18" stroke-opacity="0.42" stroke-width="0.7"/>
<circle cx="294.6" cy="63.9" r="2.2" fill="#9A4C18" fill-opacity="0.36" stroke="#9A4C18" stroke-opacity="0.42" stroke-width="0.7"/>
<circle cx="295.3" cy="58.2" r="2.2" fill="#9A4C18" fill-opacity="0.36" stroke="#9A4C18" stroke-opacity="0.42" stroke-width="0.7"/>
<circle cx="299.1" cy="57.8" r="2.2" fill="#9A4C18" fill-opacity="0.36" stroke="#9A4C18" stroke-opacity="0.42" stroke-width="0.7"/>
<circle cx="301.2" cy="64.9" r="2.2" fill="#9A4C18" fill-opacity="0.36" stroke="#9A4C18" stroke-opacity="0.42" stroke-width="0.7"/>
<circle cx="296.1" cy="61.2" r="2.2" fill="#9A4C18" fill-opacity="0.36" stroke="#9A4C18" stroke-opacity="0.42" stroke-width="0.7"/>
<circle cx="297.7" cy="67.7" r="2.2" fill="#9A4C18" fill-opacity="0.36" stroke="#9A4C18" stroke-opacity="0.42" stroke-width="0.7"/>
<circle cx="296.5" cy="58.8" r="2.2" fill="#9A4C18" fill-opacity="0.36" stroke="#9A4C18" stroke-opacity="0.42" stroke-width="0.7"/>
<circle cx="299.9" cy="66.9" r="2.2" fill="#9A4C18" fill-opacity="0.36" stroke="#9A4C18" stroke-opacity="0.42" stroke-width="0.7"/>
<circle cx="299.5" cy="89.9" r="2.2" fill="#9A4C18" fill-opacity="0.36" stroke="#9A4C18" stroke-opacity="0.42" stroke-width="0.7"/>
<circle cx="295.2" cy="83.2" r="2.2" fill="#9A4C18" fill-opacity="0.36" stroke="#9A4C18" stroke-opacity="0.42" stroke-width="0.7"/>
<circle cx="299.8" cy="78.1" r="2.2" fill="#9A4C18" fill-opacity="0.36" stroke="#9A4C18" stroke-opacity="0.42" stroke-width="0.7"/>
<circle cx="297.3" cy="71.9" r="2.2" fill="#9A4C18" fill-opacity="0.36" stroke="#9A4C18" stroke-opacity="0.42" stroke-width="0.7"/>
<circle cx="300.4" cy="89.5" r="2.2" fill="#9A4C18" fill-opacity="0.36" stroke="#9A4C18" stroke-opacity="0.42" stroke-width="0.7"/>
<circle cx="300.4" cy="90.5" r="2.2" fill="#9A4C18" fill-opacity="0.36" stroke="#9A4C18" stroke-opacity="0.42" stroke-width="0.7"/>
<circle cx="294.6" cy="76.1" r="2.2" fill="#9A4C18" fill-opacity="0.36" stroke="#9A4C18" stroke-opacity="0.42" stroke-width="0.7"/>
<circle cx="297.9" cy="86.2" r="2.2" fill="#9A4C18" fill-opacity="0.36" stroke="#9A4C18" stroke-opacity="0.42" stroke-width="0.7"/>
<circle cx="298.7" cy="82.8" r="2.2" fill="#9A4C18" fill-opacity="0.36" stroke="#9A4C18" stroke-opacity="0.42" stroke-width="0.7"/>
<circle cx="297.5" cy="73.4" r="2.2" fill="#9A4C18" fill-opacity="0.36" stroke="#9A4C18" stroke-opacity="0.42" stroke-width="0.7"/>
<circle cx="295.5" cy="79.4" r="2.2" fill="#9A4C18" fill-opacity="0.36" stroke="#9A4C18" stroke-opacity="0.42" stroke-width="0.7"/>
<circle cx="295.0" cy="84.0" r="2.2" fill="#9A4C18" fill-opacity="0.36" stroke="#9A4C18" stroke-opacity="0.42" stroke-width="0.7"/>
<circle cx="294.7" cy="78.5" r="2.2" fill="#9A4C18" fill-opacity="0.36" stroke="#9A4C18" stroke-opacity="0.42" stroke-width="0.7"/>
<circle cx="296.0" cy="70.7" r="2.2" fill="#9A4C18" fill-opacity="0.36" stroke="#9A4C18" stroke-opacity="0.42" stroke-width="0.7"/>
<circle cx="300.4" cy="78.4" r="2.2" fill="#9A4C18" fill-opacity="0.36" stroke="#9A4C18" stroke-opacity="0.42" stroke-width="0.7"/>
<circle cx="297.9" cy="73.5" r="2.2" fill="#9A4C18" fill-opacity="0.36" stroke="#9A4C18" stroke-opacity="0.42" stroke-width="0.7"/>
<circle cx="297.2" cy="75.4" r="2.2" fill="#9A4C18" fill-opacity="0.36" stroke="#9A4C18" stroke-opacity="0.42" stroke-width="0.7"/>
<circle cx="294.9" cy="74.0" r="2.2" fill="#9A4C18" fill-opacity="0.36" stroke="#9A4C18" stroke-opacity="0.42" stroke-width="0.7"/>
<circle cx="299.9" cy="83.6" r="2.2" fill="#9A4C18" fill-opacity="0.36" stroke="#9A4C18" stroke-opacity="0.42" stroke-width="0.7"/>
<circle cx="298.7" cy="84.8" r="2.2" fill="#9A4C18" fill-opacity="0.36" stroke="#9A4C18" stroke-opacity="0.42" stroke-width="0.7"/>
<circle cx="296.3" cy="82.2" r="2.2" fill="#9A4C18" fill-opacity="0.36" stroke="#9A4C18" stroke-opacity="0.42" stroke-width="0.7"/>
<circle cx="294.7" cy="79.9" r="2.2" fill="#9A4C18" fill-opacity="0.36" stroke="#9A4C18" stroke-opacity="0.42" stroke-width="0.7"/>
<circle cx="297.2" cy="90.9" r="2.2" fill="#9A4C18" fill-opacity="0.36" stroke="#9A4C18" stroke-opacity="0.42" stroke-width="0.7"/>
<circle cx="295.5" cy="82.2" r="2.2" fill="#9A4C18" fill-opacity="0.36" stroke="#9A4C18" stroke-opacity="0.42" stroke-width="0.7"/>
<circle cx="295.7" cy="78.4" r="2.2" fill="#9A4C18" fill-opacity="0.36" stroke="#9A4C18" stroke-opacity="0.42" stroke-width="0.7"/>
<circle cx="297.3" cy="76.7" r="2.2" fill="#9A4C18" fill-opacity="0.36" stroke="#9A4C18" stroke-opacity="0.42" stroke-width="0.7"/>
<circle cx="298.4" cy="93.5" r="2.2" fill="#9A4C18" fill-opacity="0.36" stroke="#9A4C18" stroke-opacity="0.42" stroke-width="0.7"/>
<circle cx="295.3" cy="70.5" r="2.2" fill="#9A4C18" fill-opacity="0.36" stroke="#9A4C18" stroke-opacity="0.42" stroke-width="0.7"/>
<circle cx="297.1" cy="92.4" r="2.2" fill="#9A4C18" fill-opacity="0.36" stroke="#9A4C18" stroke-opacity="0.42" stroke-width="0.7"/>
<circle cx="299.9" cy="78.6" r="2.2" fill="#9A4C18" fill-opacity="0.36" stroke="#9A4C18" stroke-opacity="0.42" stroke-width="0.7"/>
<circle cx="296.5" cy="83.2" r="2.2" fill="#9A4C18" fill-opacity="0.36" stroke="#9A4C18" stroke-opacity="0.42" stroke-width="0.7"/>
<circle cx="294.0" cy="73.2" r="2.2" fill="#9A4C18" fill-opacity="0.36" stroke="#9A4C18" stroke-opacity="0.42" stroke-width="0.7"/>
<circle cx="295.9" cy="71.0" r="2.2" fill="#9A4C18" fill-opacity="0.36" stroke="#9A4C18" stroke-opacity="0.42" stroke-width="0.7"/>
<circle cx="296.6" cy="76.3" r="2.2" fill="#9A4C18" fill-opacity="0.36" stroke="#9A4C18" stroke-opacity="0.42" stroke-width="0.7"/>
<circle cx="294.8" cy="74.2" r="2.2" fill="#9A4C18" fill-opacity="0.36" stroke="#9A4C18" stroke-opacity="0.42" stroke-width="0.7"/>
<circle cx="295.4" cy="78.5" r="2.2" fill="#9A4C18" fill-opacity="0.36" stroke="#9A4C18" stroke-opacity="0.42" stroke-width="0.7"/>
<circle cx="300.6" cy="75.6" r="2.2" fill="#9A4C18" fill-opacity="0.36" stroke="#9A4C18" stroke-opacity="0.42" stroke-width="0.7"/>
<circle cx="298.9" cy="72.8" r="2.2" fill="#9A4C18" fill-opacity="0.36" stroke="#9A4C18" stroke-opacity="0.42" stroke-width="0.7"/>
<circle cx="300.6" cy="93.6" r="2.2" fill="#9A4C18" fill-opacity="0.36" stroke="#9A4C18" stroke-opacity="0.42" stroke-width="0.7"/>
<circle cx="297.8" cy="71.6" r="2.2" fill="#9A4C18" fill-opacity="0.36" stroke="#9A4C18" stroke-opacity="0.42" stroke-width="0.7"/>
<circle cx="294.0" cy="81.4" r="2.2" fill="#9A4C18" fill-opacity="0.36" stroke="#9A4C18" stroke-opacity="0.42" stroke-width="0.7"/>
<circle cx="301.1" cy="92.9" r="2.2" fill="#9A4C18" fill-opacity="0.36" stroke="#9A4C18" stroke-opacity="0.42" stroke-width="0.7"/>
<circle cx="294.9" cy="94.8" r="2.2" fill="#9A4C18" fill-opacity="0.36" stroke="#9A4C18" stroke-opacity="0.42" stroke-width="0.7"/>
<circle cx="296.8" cy="87.0" r="2.2" fill="#9A4C18" fill-opacity="0.36" stroke="#9A4C18" stroke-opacity="0.42" stroke-width="0.7"/>
<circle cx="294.0" cy="86.6" r="2.2" fill="#9A4C18" fill-opacity="0.36" stroke="#9A4C18" stroke-opacity="0.42" stroke-width="0.7"/>
<circle cx="298.2" cy="80.6" r="2.2" fill="#9A4C18" fill-opacity="0.36" stroke="#9A4C18" stroke-opacity="0.42" stroke-width="0.7"/>
<circle cx="299.1" cy="83.2" r="2.2" fill="#9A4C18" fill-opacity="0.36" stroke="#9A4C18" stroke-opacity="0.42" stroke-width="0.7"/>
<circle cx="301.0" cy="81.5" r="2.2" fill="#9A4C18" fill-opacity="0.36" stroke="#9A4C18" stroke-opacity="0.42" stroke-width="0.7"/>
<circle cx="299.2" cy="106.2" r="2.2" fill="#9A4C18" fill-opacity="0.36" stroke="#9A4C18" stroke-opacity="0.42" stroke-width="0.7"/>
<circle cx="294.2" cy="106.6" r="2.2" fill="#9A4C18" fill-opacity="0.36" stroke="#9A4C18" stroke-opacity="0.42" stroke-width="0.7"/>
<circle cx="296.7" cy="104.1" r="2.2" fill="#9A4C18" fill-opacity="0.36" stroke="#9A4C18" stroke-opacity="0.42" stroke-width="0.7"/>
<circle cx="296.6" cy="97.6" r="2.2" fill="#9A4C18" fill-opacity="0.36" stroke="#9A4C18" stroke-opacity="0.42" stroke-width="0.7"/>
<circle cx="295.6" cy="104.6" r="2.2" fill="#9A4C18" fill-opacity="0.36" stroke="#9A4C18" stroke-opacity="0.42" stroke-width="0.7"/>
<circle cx="298.2" cy="101.9" r="2.2" fill="#9A4C18" fill-opacity="0.36" stroke="#9A4C18" stroke-opacity="0.42" stroke-width="0.7"/>
<circle cx="296.9" cy="100.9" r="2.2" fill="#9A4C18" fill-opacity="0.36" stroke="#9A4C18" stroke-opacity="0.42" stroke-width="0.7"/>
<circle cx="297.2" cy="95.1" r="2.2" fill="#9A4C18" fill-opacity="0.36" stroke="#9A4C18" stroke-opacity="0.42" stroke-width="0.7"/>
<circle cx="296.1" cy="103.0" r="2.2" fill="#9A4C18" fill-opacity="0.36" stroke="#9A4C18" stroke-opacity="0.42" stroke-width="0.7"/>
<circle cx="295.7" cy="98.0" r="2.2" fill="#9A4C18" fill-opacity="0.36" stroke="#9A4C18" stroke-opacity="0.42" stroke-width="0.7"/>
<circle cx="295.4" cy="98.4" r="2.2" fill="#9A4C18" fill-opacity="0.36" stroke="#9A4C18" stroke-opacity="0.42" stroke-width="0.7"/>
<circle cx="296.3" cy="97.5" r="2.2" fill="#9A4C18" fill-opacity="0.36" stroke="#9A4C18" stroke-opacity="0.42" stroke-width="0.7"/>
<circle cx="296.7" cy="107.3" r="2.2" fill="#9A4C18" fill-opacity="0.36" stroke="#9A4C18" stroke-opacity="0.42" stroke-width="0.7"/>
<circle cx="298.5" cy="96.8" r="2.2" fill="#9A4C18" fill-opacity="0.36" stroke="#9A4C18" stroke-opacity="0.42" stroke-width="0.7"/>
<circle cx="387.7" cy="45.8" r="2.2" fill="#9A4C18" fill-opacity="0.36" stroke="#9A4C18" stroke-opacity="0.42" stroke-width="0.7"/>
<circle cx="384.9" cy="47.1" r="2.2" fill="#9A4C18" fill-opacity="0.36" stroke="#9A4C18" stroke-opacity="0.42" stroke-width="0.7"/>
<circle cx="386.1" cy="53.9" r="2.2" fill="#9A4C18" fill-opacity="0.36" stroke="#9A4C18" stroke-opacity="0.42" stroke-width="0.7"/>
<circle cx="387.3" cy="64.0" r="2.2" fill="#9A4C18" fill-opacity="0.36" stroke="#9A4C18" stroke-opacity="0.42" stroke-width="0.7"/>
<circle cx="390.2" cy="59.2" r="2.2" fill="#9A4C18" fill-opacity="0.36" stroke="#9A4C18" stroke-opacity="0.42" stroke-width="0.7"/>
<circle cx="391.0" cy="62.6" r="2.2" fill="#9A4C18" fill-opacity="0.36" stroke="#9A4C18" stroke-opacity="0.42" stroke-width="0.7"/>
<circle cx="387.8" cy="55.7" r="2.2" fill="#9A4C18" fill-opacity="0.36" stroke="#9A4C18" stroke-opacity="0.42" stroke-width="0.7"/>
<circle cx="387.8" cy="61.1" r="2.2" fill="#9A4C18" fill-opacity="0.36" stroke="#9A4C18" stroke-opacity="0.42" stroke-width="0.7"/>
<circle cx="385.5" cy="64.6" r="2.2" fill="#9A4C18" fill-opacity="0.36" stroke="#9A4C18" stroke-opacity="0.42" stroke-width="0.7"/>
<circle cx="390.2" cy="61.4" r="2.2" fill="#9A4C18" fill-opacity="0.36" stroke="#9A4C18" stroke-opacity="0.42" stroke-width="0.7"/>
<circle cx="391.0" cy="59.8" r="2.2" fill="#9A4C18" fill-opacity="0.36" stroke="#9A4C18" stroke-opacity="0.42" stroke-width="0.7"/>
<circle cx="389.0" cy="55.3" r="2.2" fill="#9A4C18" fill-opacity="0.36" stroke="#9A4C18" stroke-opacity="0.42" stroke-width="0.7"/>
<circle cx="390.6" cy="66.3" r="2.2" fill="#9A4C18" fill-opacity="0.36" stroke="#9A4C18" stroke-opacity="0.42" stroke-width="0.7"/>
<circle cx="389.3" cy="70.4" r="2.2" fill="#9A4C18" fill-opacity="0.36" stroke="#9A4C18" stroke-opacity="0.42" stroke-width="0.7"/>
<circle cx="387.9" cy="85.6" r="2.2" fill="#9A4C18" fill-opacity="0.36" stroke="#9A4C18" stroke-opacity="0.42" stroke-width="0.7"/>
<circle cx="389.2" cy="75.0" r="2.2" fill="#9A4C18" fill-opacity="0.36" stroke="#9A4C18" stroke-opacity="0.42" stroke-width="0.7"/>
<circle cx="386.0" cy="88.6" r="2.2" fill="#9A4C18" fill-opacity="0.36" stroke="#9A4C18" stroke-opacity="0.42" stroke-width="0.7"/>
<circle cx="386.8" cy="86.7" r="2.2" fill="#9A4C18" fill-opacity="0.36" stroke="#9A4C18" stroke-opacity="0.42" stroke-width="0.7"/>
<circle cx="387.9" cy="82.5" r="2.2" fill="#9A4C18" fill-opacity="0.36" stroke="#9A4C18" stroke-opacity="0.42" stroke-width="0.7"/>
<circle cx="390.9" cy="74.0" r="2.2" fill="#9A4C18" fill-opacity="0.36" stroke="#9A4C18" stroke-opacity="0.42" stroke-width="0.7"/>
<circle cx="388.0" cy="81.3" r="2.2" fill="#9A4C18" fill-opacity="0.36" stroke="#9A4C18" stroke-opacity="0.42" stroke-width="0.7"/>
<circle cx="390.8" cy="83.9" r="2.2" fill="#9A4C18" fill-opacity="0.36" stroke="#9A4C18" stroke-opacity="0.42" stroke-width="0.7"/>
<circle cx="387.0" cy="69.0" r="2.2" fill="#9A4C18" fill-opacity="0.36" stroke="#9A4C18" stroke-opacity="0.42" stroke-width="0.7"/>
<circle cx="387.0" cy="75.2" r="2.2" fill="#9A4C18" fill-opacity="0.36" stroke="#9A4C18" stroke-opacity="0.42" stroke-width="0.7"/>
<circle cx="388.9" cy="84.0" r="2.2" fill="#9A4C18" fill-opacity="0.36" stroke="#9A4C18" stroke-opacity="0.42" stroke-width="0.7"/>
<circle cx="386.1" cy="73.6" r="2.2" fill="#9A4C18" fill-opacity="0.36" stroke="#9A4C18" stroke-opacity="0.42" stroke-width="0.7"/>
<circle cx="388.1" cy="78.0" r="2.2" fill="#9A4C18" fill-opacity="0.36" stroke="#9A4C18" stroke-opacity="0.42" stroke-width="0.7"/>
<circle cx="389.7" cy="87.5" r="2.2" fill="#9A4C18" fill-opacity="0.36" stroke="#9A4C18" stroke-opacity="0.42" stroke-width="0.7"/>
<circle cx="391.2" cy="82.5" r="2.2" fill="#9A4C18" fill-opacity="0.36" stroke="#9A4C18" stroke-opacity="0.42" stroke-width="0.7"/>
<circle cx="387.4" cy="85.6" r="2.2" fill="#9A4C18" fill-opacity="0.36" stroke="#9A4C18" stroke-opacity="0.42" stroke-width="0.7"/>
<circle cx="385.9" cy="82.3" r="2.2" fill="#9A4C18" fill-opacity="0.36" stroke="#9A4C18" stroke-opacity="0.42" stroke-width="0.7"/>
<circle cx="390.5" cy="68.2" r="2.2" fill="#9A4C18" fill-opacity="0.36" stroke="#9A4C18" stroke-opacity="0.42" stroke-width="0.7"/>
<circle cx="389.4" cy="86.7" r="2.2" fill="#9A4C18" fill-opacity="0.36" stroke="#9A4C18" stroke-opacity="0.42" stroke-width="0.7"/>
<circle cx="389.9" cy="73.5" r="2.2" fill="#9A4C18" fill-opacity="0.36" stroke="#9A4C18" stroke-opacity="0.42" stroke-width="0.7"/>
<circle cx="388.1" cy="77.7" r="2.2" fill="#9A4C18" fill-opacity="0.36" stroke="#9A4C18" stroke-opacity="0.42" stroke-width="0.7"/>
<circle cx="391.1" cy="68.6" r="2.2" fill="#9A4C18" fill-opacity="0.36" stroke="#9A4C18" stroke-opacity="0.42" stroke-width="0.7"/>
<circle cx="388.8" cy="82.1" r="2.2" fill="#9A4C18" fill-opacity="0.36" stroke="#9A4C18" stroke-opacity="0.42" stroke-width="0.7"/>
<circle cx="387.4" cy="81.2" r="2.2" fill="#9A4C18" fill-opacity="0.36" stroke="#9A4C18" stroke-opacity="0.42" stroke-width="0.7"/>
<circle cx="386.4" cy="95.2" r="2.2" fill="#9A4C18" fill-opacity="0.36" stroke="#9A4C18" stroke-opacity="0.42" stroke-width="0.7"/>
<circle cx="390.3" cy="93.7" r="2.2" fill="#9A4C18" fill-opacity="0.36" stroke="#9A4C18" stroke-opacity="0.42" stroke-width="0.7"/>
<circle cx="390.7" cy="100.1" r="2.2" fill="#9A4C18" fill-opacity="0.36" stroke="#9A4C18" stroke-opacity="0.42" stroke-width="0.7"/>
<circle cx="387.3" cy="100.1" r="2.2" fill="#9A4C18" fill-opacity="0.36" stroke="#9A4C18" stroke-opacity="0.42" stroke-width="0.7"/>
<circle cx="389.9" cy="96.5" r="2.2" fill="#9A4C18" fill-opacity="0.36" stroke="#9A4C18" stroke-opacity="0.42" stroke-width="0.7"/>
<circle cx="390.8" cy="93.8" r="2.2" fill="#9A4C18" fill-opacity="0.36" stroke="#9A4C18" stroke-opacity="0.42" stroke-width="0.7"/>
<circle cx="387.3" cy="93.3" r="2.2" fill="#9A4C18" fill-opacity="0.36" stroke="#9A4C18" stroke-opacity="0.42" stroke-width="0.7"/>
<circle cx="388.9" cy="93.7" r="2.2" fill="#9A4C18" fill-opacity="0.36" stroke="#9A4C18" stroke-opacity="0.42" stroke-width="0.7"/>
<circle cx="386.0" cy="103.8" r="2.2" fill="#9A4C18" fill-opacity="0.36" stroke="#9A4C18" stroke-opacity="0.42" stroke-width="0.7"/>
<circle cx="387.5" cy="93.9" r="2.2" fill="#9A4C18" fill-opacity="0.36" stroke="#9A4C18" stroke-opacity="0.42" stroke-width="0.7"/>
<circle cx="390.5" cy="99.2" r="2.2" fill="#9A4C18" fill-opacity="0.36" stroke="#9A4C18" stroke-opacity="0.42" stroke-width="0.7"/>
<circle cx="389.6" cy="95.9" r="2.2" fill="#9A4C18" fill-opacity="0.36" stroke="#9A4C18" stroke-opacity="0.42" stroke-width="0.7"/>
<circle cx="206.2" cy="223.3" r="2.3" fill="#DB6D20"/>
<circle cx="296.6" cy="177.4" r="2.3" fill="#DB6D20"/>
<circle cx="388.2" cy="117.4" r="2.3" fill="#DB6D20"/>
<circle cx="206.3" cy="78.6" r="2.3" fill="#9A4C18"/>
<circle cx="297.2" cy="77.4" r="2.3" fill="#9A4C18"/>
<circle cx="388.4" cy="83.1" r="2.3" fill="#9A4C18"/>
<text x="460" y="141" font-size="13" font-weight="bold" font-family="Liberation Sans, sans-serif">Legend</text>
<rect x="460.7" y="147.0" width="18.3" height="18.3" rx="0.6" fill="#DB6D20"/>
<rect x="461.9" y="148.3" width="7.2" height="2.75" fill="#FCE3CC"/>
<rect x="470.3" y="148.3" width="7.5" height="2.75" fill="#FCE3CC"/>
<rect x="461.9" y="161.5" width="7.2" height="2.75" fill="#FCE3CC"/>
<rect x="470.3" y="161.5" width="7.5" height="2.75" fill="#FCE3CC"/>
<rect x="462.9" y="152.4" width="13.2" height="2.9" fill="#FCE3CC"/>
<rect x="462.9" y="157.4" width="13.2" height="2.9" fill="#FCE3CC"/>
<circle cx="469.8" cy="156.3" r="2.25" fill="#DB6D20"/>
<text x="485" y="161.0" font-size="13" font-family="Liberation Sans, sans-serif">Baby</text>
<rect x="460.7" y="165.5" width="18.3" height="18.3" rx="0.6" fill="#9A4C18"/>
<rect x="461.9" y="166.8" width="7.2" height="2.75" fill="#FAF4F7"/>
<rect x="470.3" y="166.8" width="7.5" height="2.75" fill="#FAF4F7"/>
<rect x="461.9" y="180.0" width="7.2" height="2.75" fill="#FAF4F7"/>
<rect x="470.3" y="180.0" width="7.5" height="2.75" fill="#FAF4F7"/>
<rect x="462.9" y="170.9" width="13.2" height="2.9" fill="#FAF4F7"/>
<rect x="462.9" y="175.9" width="13.2" height="2.9" fill="#FAF4F7"/>
<circle cx="469.8" cy="174.8" r="2.25" fill="#9A4C18"/>
<text x="485" y="179.5" font-size="13" font-family="Liberation Sans, sans-serif">Mom</text>
<text x="-1.2" y="375.5" font-size="20" font-weight="bold" font-family="Liberation Sans, sans-serif">b</text>
<text transform="translate(10.5,504.5) rotate(-90)" font-size="13" text-anchor="middle" font-family="Liberation Sans, sans-serif">Abundance</text>
<line x1="50.30" y1="633.90" x2="53.50" y2="633.90" stroke="#222" stroke-width="1.1"/>
<text x="45.90" y="639.00" font-size="13.3" text-anchor="end" font-family="Liberation Sans, sans-serif">0.00</text>
<line x1="50.30" y1="569.00" x2="53.50" y2="569.00" stroke="#222" stroke-width="1.1"/>
<text x="45.90" y="574.10" font-size="13.3" text-anchor="end" font-family="Liberation Sans, sans-serif">0.25</text>
<line x1="50.30" y1="504.10" x2="53.50" y2="504.10" stroke="#222" stroke-width="1.1"/>
<text x="45.90" y="509.20" font-size="13.3" text-anchor="end" font-family="Liberation Sans, sans-serif">0.50</text>
<line x1="50.30" y1="439.20" x2="53.50" y2="439.20" stroke="#222" stroke-width="1.1"/>
<text x="45.90" y="444.30" font-size="13.3" text-anchor="end" font-family="Liberation Sans, sans-serif">0.75</text>
<line x1="50.30" y1="374.30" x2="53.50" y2="374.30" stroke="#222" stroke-width="1.1"/>
<text x="45.90" y="379.40" font-size="13.3" text-anchor="end" font-family="Liberation Sans, sans-serif">1.00</text>
<rect x="54.50" y="526.70" width="39.50" height="107.20" fill="#A6CEE3" stroke="#3a3a3a" stroke-width="0.5"/>
<rect x="54.50" y="508.90" width="39.50" height="17.80" fill="#1F78B4" stroke="#3a3a3a" stroke-width="0.5"/>
<rect x="54.50" y="500.40" width="39.50" height="8.50" fill="#B2DF8A" stroke="#3a3a3a" stroke-width="0.5"/>
<rect x="54.50" y="499.60" width="39.50" height="0.80" fill="#33A02C" stroke="#3a3a3a" stroke-width="0.5"/>
<rect x="54.50" y="469.30" width="39.50" height="30.30" fill="#FB9A99" stroke="#3a3a3a" stroke-width="0.5"/>
<rect x="54.50" y="457.80" width="39.50" height="11.50" fill="#CAB2D6" stroke="#3a3a3a" stroke-width="0.5"/>
<rect x="54.50" y="451.10" width="39.50" height="6.70" fill="#6A3D9A" stroke="#3a3a3a" stroke-width="0.5"/>
<rect x="54.50" y="445.30" width="39.50" height="5.80" fill="#B15928" stroke="#3a3a3a" stroke-width="0.5"/>
<rect x="54.50" y="374.30" width="39.50" height="71.00" fill="#D3D3D3" stroke="#3a3a3a" stroke-width="0.5"/>
<line x1="74.25" y1="633.90" x2="74.25" y2="637.90" stroke="#333" stroke-width="1"/>
<text transform="translate(81.75,647.90) rotate(-45)" font-size="13" text-anchor="end" font-family="Liberation Sans, sans-serif">Baby–T1</text>
<rect x="110.30" y="626.80" width="39.50" height="7.10" fill="#A6CEE3" stroke="#3a3a3a" stroke-width="0.5"/>
<rect x="110.30" y="579.50" width="39.50" height="47.30" fill="#1F78B4" stroke="#3a3a3a" stroke-width="0.5"/>
<rect x="110.30" y="553.50" width="39.50" height="26.00" fill="#B2DF8A" stroke="#3a3a3a" stroke-width="0.5"/>
<rect x="110.30" y="536.90" width="39.50" height="16.60" fill="#33A02C" stroke="#3a3a3a" stroke-width="0.5"/>
<rect x="110.30" y="534.90" width="39.50" height="2.00" fill="#FB9A99" stroke="#3a3a3a" stroke-width="0.5"/>
<rect x="110.30" y="518.00" width="39.50" height="16.90" fill="#E31A1C" stroke="#3a3a3a" stroke-width="0.5"/>
<rect x="110.30" y="503.30" width="39.50" height="14.70" fill="#FDBF6F" stroke="#3a3a3a" stroke-width="0.5"/>
<rect x="110.30" y="490.30" width="39.50" height="13.00" fill="#FF7F00" stroke="#3a3a3a" stroke-width="0.5"/>
<rect x="110.30" y="483.60" width="39.50" height="6.70" fill="#CAB2D6" stroke="#3a3a3a" stroke-width="0.5"/>
<rect x="110.30" y="477.30" width="39.50" height="6.30" fill="#6A3D9A" stroke="#3a3a3a" stroke-width="0.5"/>
<rect x="110.30" y="465.60" width="39.50" height="11.70" fill="#FFFF99" stroke="#3a3a3a" stroke-width="0.5"/>
<rect x="110.30" y="457.40" width="39.50" height="8.20" fill="#B15928" stroke="#3a3a3a" stroke-width="0.5"/>
<rect x="110.30" y="374.30" width="39.50" height="83.10" fill="#D3D3D3" stroke="#3a3a3a" stroke-width="0.5"/>
<line x1="130.05" y1="633.90" x2="130.05" y2="637.90" stroke="#333" stroke-width="1"/>
<text transform="translate(137.55,647.90) rotate(-45)" font-size="13" text-anchor="end" font-family="Liberation Sans, sans-serif">Mom–T1</text>
<line x1="204.30" y1="633.90" x2="207.50" y2="633.90" stroke="#222" stroke-width="1.1"/>
<text x="199.90" y="639.00" font-size="13.3" text-anchor="end" font-family="Liberation Sans, sans-serif">0.00</text>
<line x1="204.30" y1="569.00" x2="207.50" y2="569.00" stroke="#222" stroke-width="1.1"/>
<text x="199.90" y="574.10" font-size="13.3" text-anchor="end" font-family="Liberation Sans, sans-serif">0.25</text>
<line x1="204.30" y1="504.10" x2="207.50" y2="504.10" stroke="#222" stroke-width="1.1"/>
<text x="199.90" y="509.20" font-size="13.3" text-anchor="end" font-family="Liberation Sans, sans-serif">0.50</text>
<line x1="204.30" y1="439.20" x2="207.50" y2="439.20" stroke="#222" stroke-width="1.1"/>
<text x="199.90" y="444.30" font-size="13.3" text-anchor="end" font-family="Liberation Sans, sans-serif">0.75</text>
<line x1="204.30" y1="374.30" x2="207.50" y2="374.30" stroke="#222" stroke-width="1.1"/>
<text x="199.90" y="379.40" font-size="13.3" text-anchor="end" font-family="Liberation Sans, sans-serif">1.00</text>
<rect x="208.10" y="515.10" width="39.20" height="118.80" fill="#A6CEE3" stroke="#3a3a3a" stroke-width="0.5"/>
<rect x="208.10" y="490.10" width="39.20" height="25.00" fill="#1F78B4" stroke="#3a3a3a" stroke-width="0.5"/>
<rect x="208.10" y="475.60" width="39.20" height="14.50" fill="#B2DF8A" stroke="#3a3a3a" stroke-width="0.5"/>
<rect x="208.10" y="470.20" width="39.20" height="5.40" fill="#33A02C" stroke="#3a3a3a" stroke-width="0.5"/>
<rect x="208.10" y="455.20" width="39.20" height="15.00" fill="#FB9A99" stroke="#3a3a3a" stroke-width="0.5"/>
<rect x="208.10" y="451.00" width="39.20" height="4.20" fill="#E31A1C" stroke="#3a3a3a" stroke-width="0.5"/>
<rect x="208.10" y="450.20" width="39.20" height="0.80" fill="#FDBF6F" stroke="#3a3a3a" stroke-width="0.5"/>
<rect x="208.10" y="448.80" width="39.20" height="1.40" fill="#FF7F00" stroke="#3a3a3a" stroke-width="0.5"/>
<rect x="208.10" y="444.70" width="39.20" height="4.10" fill="#CAB2D6" stroke="#3a3a3a" stroke-width="0.5"/>
<rect x="208.10" y="430.20" width="39.20" height="14.50" fill="#6A3D9A" stroke="#3a3a3a" stroke-width="0.5"/>
<rect x="208.10" y="428.70" width="39.20" height="1.50" fill="#FFFF99" stroke="#3a3a3a" stroke-width="0.5"/>
<rect x="208.10" y="426.00" width="39.20" height="2.70" fill="#B15928" stroke="#3a3a3a" stroke-width="0.5"/>
<rect x="208.10" y="374.30" width="39.20" height="51.70" fill="#D3D3D3" stroke="#3a3a3a" stroke-width="0.5"/>
<line x1="227.70" y1="633.90" x2="227.70" y2="637.90" stroke="#333" stroke-width="1"/>
<text transform="translate(235.20,647.90) rotate(-45)" font-size="13" text-anchor="end" font-family="Liberation Sans, sans-serif">Baby–T2</text>
<rect x="264.20" y="625.20" width="39.30" height="8.70" fill="#A6CEE3" stroke="#3a3a3a" stroke-width="0.5"/>
<rect x="264.20" y="588.20" width="39.30" height="37.00" fill="#1F78B4" stroke="#3a3a3a" stroke-width="0.5"/>
<rect x="264.20" y="564.60" width="39.30" height="23.60" fill="#B2DF8A" stroke="#3a3a3a" stroke-width="0.5"/>
<rect x="264.20" y="544.10" width="39.30" height="20.50" fill="#33A02C" stroke="#3a3a3a" stroke-width="0.5"/>
<rect x="264.20" y="541.30" width="39.30" height="2.80" fill="#FB9A99" stroke="#3a3a3a" stroke-width="0.5"/>
<rect x="264.20" y="522.90" width="39.30" height="18.40" fill="#E31A1C" stroke="#3a3a3a" stroke-width="0.5"/>
<rect x="264.20" y="506.30" width="39.30" height="16.60" fill="#FDBF6F" stroke="#3a3a3a" stroke-width="0.5"/>
<rect x="264.20" y="492.40" width="39.30" height="13.90" fill="#FF7F00" stroke="#3a3a3a" stroke-width="0.5"/>
<rect x="264.20" y="483.10" width="39.30" height="9.30" fill="#CAB2D6" stroke="#3a3a3a" stroke-width="0.5"/>
<rect x="264.20" y="478.20" width="39.30" height="4.90" fill="#6A3D9A" stroke="#3a3a3a" stroke-width="0.5"/>
<rect x="264.20" y="467.10" width="39.30" height="11.10" fill="#FFFF99" stroke="#3a3a3a" stroke-width="0.5"/>
<rect x="264.20" y="460.20" width="39.30" height="6.90" fill="#B15928" stroke="#3a3a3a" stroke-width="0.5"/>
<rect x="264.20" y="374.30" width="39.30" height="85.90" fill="#D3D3D3" stroke="#3a3a3a" stroke-width="0.5"/>
<line x1="283.85" y1="633.90" x2="283.85" y2="637.90" stroke="#333" stroke-width="1"/>
<text transform="translate(291.35,647.90) rotate(-45)" font-size="13" text-anchor="end" font-family="Liberation Sans, sans-serif">Mom–T2</text>
<line x1="358.30" y1="633.90" x2="361.50" y2="633.90" stroke="#222" stroke-width="1.1"/>
<text x="353.90" y="639.00" font-size="13.3" text-anchor="end" font-family="Liberation Sans, sans-serif">0.00</text>
<line x1="358.30" y1="569.00" x2="361.50" y2="569.00" stroke="#222" stroke-width="1.1"/>
<text x="353.90" y="574.10" font-size="13.3" text-anchor="end" font-family="Liberation Sans, sans-serif">0.25</text>
<line x1="358.30" y1="504.10" x2="361.50" y2="504.10" stroke="#222" stroke-width="1.1"/>
<text x="353.90" y="509.20" font-size="13.3" text-anchor="end" font-family="Liberation Sans, sans-serif">0.50</text>
<line x1="358.30" y1="439.20" x2="361.50" y2="439.20" stroke="#222" stroke-width="1.1"/>
<text x="353.90" y="444.30" font-size="13.3" text-anchor="end" font-family="Liberation Sans, sans-serif">0.75</text>
<line x1="358.30" y1="374.30" x2="361.50" y2="374.30" stroke="#222" stroke-width="1.1"/>
<text x="353.90" y="379.40" font-size="13.3" text-anchor="end" font-family="Liberation Sans, sans-serif">1.00</text>
<rect x="361.80" y="598.20" width="39.00" height="35.70" fill="#A6CEE3" stroke="#3a3a3a" stroke-width="0.5"/>
<rect x="361.80" y="556.40" width="39.00" height="41.80" fill="#1F78B4" stroke="#3a3a3a" stroke-width="0.5"/>
<rect x="361.80" y="538.40" width="39.00" height="18.00" fill="#B2DF8A" stroke="#3a3a3a" stroke-width="0.5"/>
<rect x="361.80" y="519.00" width="39.00" height="19.40" fill="#33A02C" stroke="#3a3a3a" stroke-width="0.5"/>
<rect x="361.80" y="515.70" width="39.00" height="3.30" fill="#FB9A99" stroke="#3a3a3a" stroke-width="0.5"/>
<rect x="361.80" y="498.00" width="39.00" height="17.70" fill="#E31A1C" stroke="#3a3a3a" stroke-width="0.5"/>
<rect x="361.80" y="489.40" width="39.00" height="8.60" fill="#FDBF6F" stroke="#3a3a3a" stroke-width="0.5"/>
<rect x="361.80" y="474.20" width="39.00" height="15.20" fill="#FF7F00" stroke="#3a3a3a" stroke-width="0.5"/>
<rect x="361.80" y="468.20" width="39.00" height="6.00" fill="#CAB2D6" stroke="#3a3a3a" stroke-width="0.5"/>
<rect x="361.80" y="454.10" width="39.00" height="14.10" fill="#6A3D9A" stroke="#3a3a3a" stroke-width="0.5"/>
<rect x="361.80" y="450.60" width="39.00" height="3.50" fill="#FFFF99" stroke="#3a3a3a" stroke-width="0.5"/>
<rect x="361.80" y="445.20" width="39.00" height="5.40" fill="#B15928" stroke="#3a3a3a" stroke-width="0.5"/>
<rect x="361.80" y="374.30" width="39.00" height="70.90" fill="#D3D3D3" stroke="#3a3a3a" stroke-width="0.5"/>
<line x1="381.30" y1="633.90" x2="381.30" y2="637.90" stroke="#333" stroke-width="1"/>
<text transform="translate(388.80,647.90) rotate(-45)" font-size="13" text-anchor="end" font-family="Liberation Sans, sans-serif">Baby–T3</text>
<rect x="417.40" y="623.70" width="39.40" height="10.20" fill="#A6CEE3" stroke="#3a3a3a" stroke-width="0.5"/>
<rect x="417.40" y="581.70" width="39.40" height="42.00" fill="#1F78B4" stroke="#3a3a3a" stroke-width="0.5"/>
<rect x="417.40" y="558.60" width="39.40" height="23.10" fill="#B2DF8A" stroke="#3a3a3a" stroke-width="0.5"/>
<rect x="417.40" y="540.40" width="39.40" height="18.20" fill="#33A02C" stroke="#3a3a3a" stroke-width="0.5"/>
<rect x="417.40" y="539.30" width="39.40" height="1.10" fill="#FB9A99" stroke="#3a3a3a" stroke-width="0.5"/>
<rect x="417.40" y="520.10" width="39.40" height="19.20" fill="#E31A1C" stroke="#3a3a3a" stroke-width="0.5"/>
<rect x="417.40" y="504.50" width="39.40" height="15.60" fill="#FDBF6F" stroke="#3a3a3a" stroke-width="0.5"/>
<rect x="417.40" y="489.40" width="39.40" height="15.10" fill="#FF7F00" stroke="#3a3a3a" stroke-width="0.5"/>
<rect x="417.40" y="481.60" width="39.40" height="7.80" fill="#CAB2D6" stroke="#3a3a3a" stroke-width="0.5"/>
<rect x="417.40" y="476.40" width="39.40" height="5.20" fill="#6A3D9A" stroke="#3a3a3a" stroke-width="0.5"/>
<rect x="417.40" y="465.60" width="39.40" height="10.80" fill="#FFFF99" stroke="#3a3a3a" stroke-width="0.5"/>
<rect x="417.40" y="458.00" width="39.40" height="7.60" fill="#B15928" stroke="#3a3a3a" stroke-width="0.5"/>
<rect x="417.40" y="374.30" width="39.40" height="83.70" fill="#D3D3D3" stroke="#3a3a3a" stroke-width="0.5"/>
<line x1="437.10" y1="633.90" x2="437.10" y2="637.90" stroke="#333" stroke-width="1"/>
<text transform="translate(444.60,647.90) rotate(-45)" font-size="13" text-anchor="end" font-family="Liberation Sans, sans-serif">Mom–T3</text>
<text x="489.5" y="384" font-size="13" font-family="Liberation Sans, sans-serif">Genus</text>
<rect x="488.8" y="391.30" width="18.7" height="18.75" fill="#A6CEE3" stroke="#999" stroke-width="0.6"/>
<text x="513.5" y="403.20" font-size="13.15" font-family="Liberation Sans, sans-serif">g__Bifidobacterium</text>
<rect x="488.8" y="410.05" width="18.7" height="18.75" fill="#1F78B4" stroke="#999" stroke-width="0.6"/>
<line x1="488.8" y1="410.05" x2="507.5" y2="410.05" stroke="#3a3a3a" stroke-width="0.5"/>
<text x="513.5" y="422.17" font-size="13.15" font-family="Liberation Sans, sans-serif">g__Bacteroides</text>
<rect x="488.8" y="428.80" width="18.7" height="18.75" fill="#B2DF8A" stroke="#999" stroke-width="0.6"/>
<line x1="488.8" y1="428.80" x2="507.5" y2="428.80" stroke="#3a3a3a" stroke-width="0.5"/>
<text x="513.5" y="441.14" font-size="13.15" font-family="Liberation Sans, sans-serif">g__Phocaeicola</text>
<rect x="488.8" y="447.55" width="18.7" height="18.75" fill="#33A02C" stroke="#999" stroke-width="0.6"/>
<line x1="488.8" y1="447.55" x2="507.5" y2="447.55" stroke="#3a3a3a" stroke-width="0.5"/>
<text x="513.5" y="460.11" font-size="13.15" font-family="Liberation Sans, sans-serif">g__Blautia</text>
<rect x="488.8" y="466.30" width="18.7" height="18.75" fill="#FB9A99" stroke="#999" stroke-width="0.6"/>
<line x1="488.8" y1="466.30" x2="507.5" y2="466.30" stroke="#3a3a3a" stroke-width="0.5"/>
<text x="513.5" y="479.08" font-size="13.15" font-family="Liberation Sans, sans-serif">g__Escherichia</text>
<rect x="488.8" y="485.05" width="18.7" height="18.75" fill="#E31A1C" stroke="#999" stroke-width="0.6"/>
<line x1="488.8" y1="485.05" x2="507.5" y2="485.05" stroke="#3a3a3a" stroke-width="0.5"/>
<text x="513.5" y="498.05" font-size="13.15" font-family="Liberation Sans, sans-serif">g__Faecalibacterium</text>
<rect x="488.8" y="503.80" width="18.7" height="18.75" fill="#FDBF6F" stroke="#999" stroke-width="0.6"/>
<line x1="488.8" y1="503.80" x2="507.5" y2="503.80" stroke="#3a3a3a" stroke-width="0.5"/>
<text x="513.5" y="517.02" font-size="13.15" font-family="Liberation Sans, sans-serif">g__Ruminococcus</text>
<rect x="488.8" y="522.55" width="18.7" height="18.75" fill="#FF7F00" stroke="#999" stroke-width="0.6"/>
<line x1="488.8" y1="522.55" x2="507.5" y2="522.55" stroke="#3a3a3a" stroke-width="0.5"/>
<text x="513.5" y="535.99" font-size="13.15" font-family="Liberation Sans, sans-serif">g__Roseburia</text>
<rect x="488.8" y="541.30" width="18.7" height="18.75" fill="#CAB2D6" stroke="#999" stroke-width="0.6"/>
<line x1="488.8" y1="541.30" x2="507.5" y2="541.30" stroke="#3a3a3a" stroke-width="0.5"/>
<text x="513.5" y="554.96" font-size="13.15" font-family="Liberation Sans, sans-serif">g__Clostridium</text>
<rect x="488.8" y="560.05" width="18.7" height="18.75" fill="#6A3D9A" stroke="#999" stroke-width="0.6"/>
<line x1="488.8" y1="560.05" x2="507.5" y2="560.05" stroke="#3a3a3a" stroke-width="0.5"/>
<text x="513.5" y="573.93" font-size="13.15" font-family="Liberation Sans, sans-serif">g__Mediterraneibacter</text>
<rect x="488.8" y="578.80" width="18.7" height="18.75" fill="#FFFF99" stroke="#999" stroke-width="0.6"/>
<line x1="488.8" y1="578.80" x2="507.5" y2="578.80" stroke="#3a3a3a" stroke-width="0.5"/>
<text x="513.5" y="592.90" font-size="13.15" font-family="Liberation Sans, sans-serif">g__Alistipes</text>
<rect x="488.8" y="597.55" width="18.7" height="18.75" fill="#B15928" stroke="#999" stroke-width="0.6"/>
<line x1="488.8" y1="597.55" x2="507.5" y2="597.55" stroke="#3a3a3a" stroke-width="0.5"/>
<text x="513.5" y="611.87" font-size="13.15" font-family="Liberation Sans, sans-serif">g__Parabacteroides</text>
<rect x="488.8" y="616.30" width="18.7" height="18.75" fill="#D3D3D3" stroke="#999" stroke-width="0.6"/>
<line x1="488.8" y1="616.30" x2="507.5" y2="616.30" stroke="#3a3a3a" stroke-width="0.5"/>
<text x="513.5" y="630.84" font-size="13.15" font-family="Liberation Sans, sans-serif">Other</text>
</svg>
</body></html>
